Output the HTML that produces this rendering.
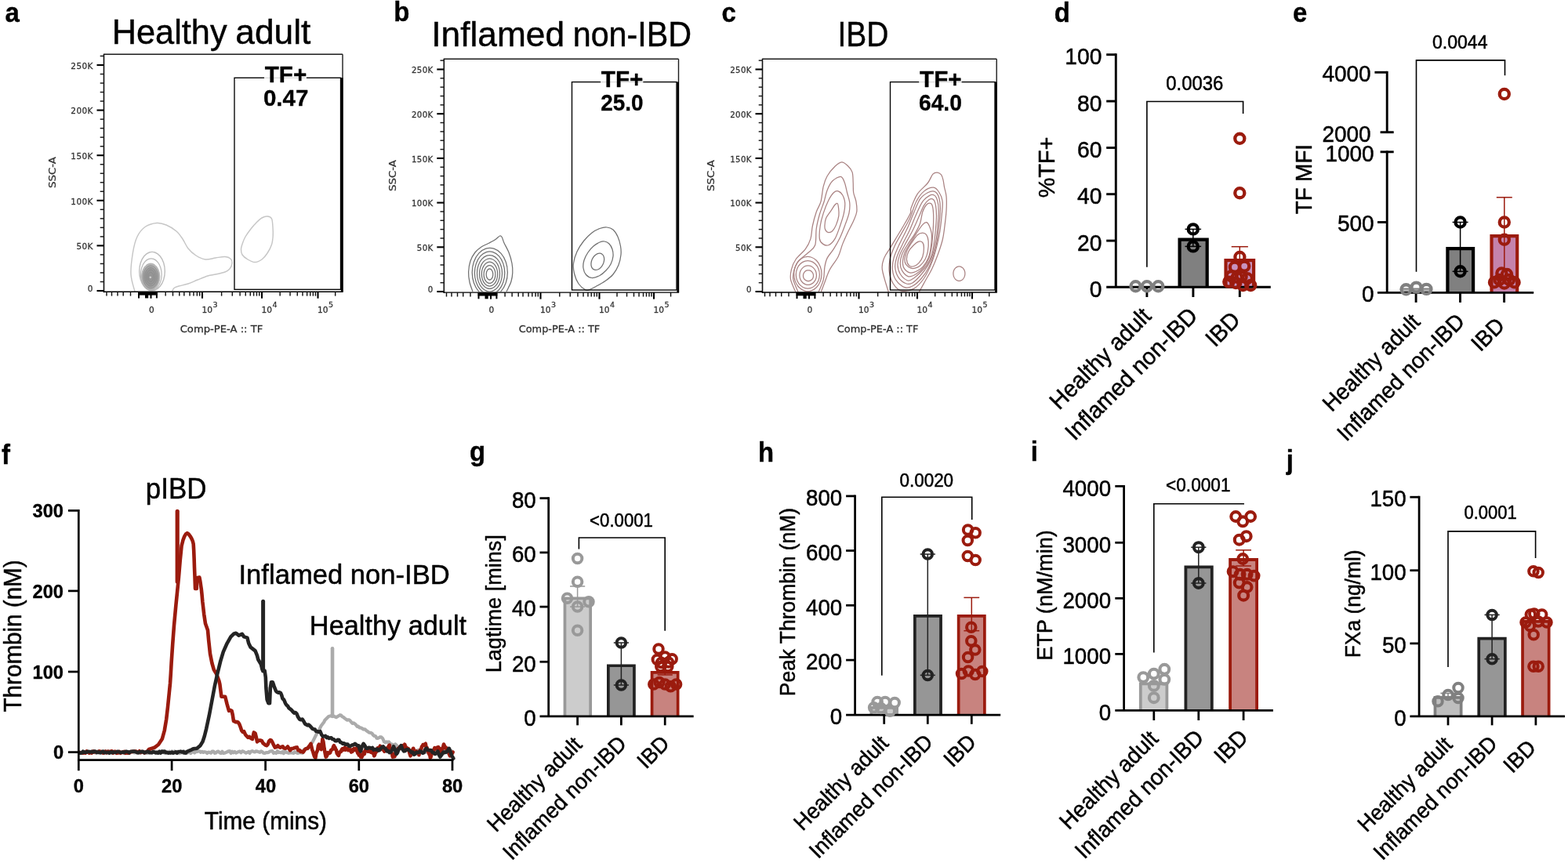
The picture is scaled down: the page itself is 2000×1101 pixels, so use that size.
<!DOCTYPE html>
<html lang="en">
<head>
<meta charset="utf-8">
<title>Tissue factor expression and thrombin generation in IBD</title>
<style>
html,body{margin:0;padding:0;background:#fff;}
body{width:2000px;height:1101px;overflow:hidden;font-family:"Liberation Sans",Arial,Helvetica,sans-serif;}
svg{display:block;}
svg text{white-space:pre;}
</style>
</head>
<body>
<svg width="2000" height="1101" viewBox="0 0 2000 1101">
<rect x="0" y="0" width="2000" height="1101" fill="#ffffff"/>
<g id="panel-a">
<text x="6.51" y="27.5" font-family="'Liberation Sans', Arial, Helvetica, sans-serif" font-size="34.38" fill="#000" textLength="18.3" lengthAdjust="spacingAndGlyphs" font-weight="bold" stroke="#000" stroke-width="0.4" stroke-linejoin="round">a</text>
<text y="56.3" font-family="'Liberation Sans', Arial, Helvetica, sans-serif" font-size="44.5" fill="#000" stroke="#000" stroke-width="0.45"><tspan x="142.67" textLength="146.97" lengthAdjust="spacingAndGlyphs">Healthy</tspan> <tspan x="300.32" textLength="96.06" lengthAdjust="spacingAndGlyphs">adult</tspan></text>
<defs><radialGradient id="coreA" cx="50%" cy="52%" r="55%"><stop offset="0" stop-color="#939393"/><stop offset="0.6" stop-color="#9a9a9a"/><stop offset="1" stop-color="#c4c4c4"/></radialGradient></defs>
<path d="M172 372 C171.17 368.33 167.42 358.33 167 350 C166.58 341.67 168.17 330 169.5 322 C170.83 314 172.42 307.42 175 302 C177.58 296.58 180.83 292.42 185 289.5 C189.17 286.58 195.5 284.92 200 284.5 C204.5 284.08 207.83 285.25 212 287 C216.17 288.75 221.5 292 225 295 C228.5 298 230.5 301.33 233 305 C235.5 308.67 237.17 313.5 240 317 C242.83 320.5 246.33 323.67 250 326 C253.67 328.33 257.83 330.5 262 331 C266.17 331.5 270.83 329.58 275 329 C279.17 328.42 283.83 327.33 287 327.5 C290.17 327.67 292.5 328.58 294 330 C295.5 331.42 296.17 333.83 296 336 C295.83 338.17 294.5 341.17 293 343 C291.5 344.83 290 345.83 287 347 C284 348.17 278.67 349.17 275 350 C271.33 350.83 268.83 350.83 265 352 C261.17 353.17 256.17 355.33 252 357 C247.83 358.67 244 360.67 240 362 C236 363.33 231 364.08 228 365 C225 365.92 223.42 366.33 222 367.5 C220.58 368.67 219.92 371.25 219.5 372" fill="none" stroke="#c6c6c6" stroke-width="1.45"/>
<path d="M210.3 346 C210.3 349.56 209.71 353.47 208.69 356.67 C207.66 359.88 206.01 363.01 204.16 365.23 C202.32 367.45 199.93 369.19 197.63 369.98 C195.33 370.77 192.67 370.77 190.37 369.98 C188.07 369.19 185.68 367.45 183.84 365.23 C181.99 363.01 180.34 359.88 179.31 356.67 C178.29 353.47 177.7 349.56 177.7 346 C177.7 342.44 178.29 338.53 179.31 335.33 C180.34 332.12 181.99 328.99 183.84 326.77 C185.68 324.55 188.07 322.81 190.37 322.02 C192.67 321.23 195.33 321.23 197.63 322.02 C199.93 322.81 202.32 324.55 204.16 326.77 C206.01 328.99 207.66 332.12 208.69 335.33 C209.71 338.53 210.3 342.44 210.3 346Z" fill="none" stroke="#bdbdbd" stroke-width="1.4"/>
<path d="M206.2 350.3 C206.2 353.25 205.71 356.49 204.87 359.15 C204.03 361.81 202.67 364.41 201.15 366.25 C199.64 368.09 197.67 369.53 195.78 370.19 C193.89 370.85 191.71 370.85 189.82 370.19 C187.93 369.53 185.96 368.09 184.45 366.25 C182.93 364.41 181.57 361.81 180.73 359.15 C179.89 356.49 179.4 353.25 179.4 350.3 C179.4 347.35 179.89 344.11 180.73 341.45 C181.57 338.79 182.93 336.19 184.45 334.35 C185.96 332.51 187.93 331.07 189.82 330.41 C191.71 329.75 193.89 329.75 195.78 330.41 C197.67 331.07 199.64 332.51 201.15 334.35 C202.67 336.19 204.03 338.79 204.87 341.45 C205.71 344.11 206.2 347.35 206.2 350.3Z" fill="none" stroke="#b9b9b9" stroke-width="1.2"/>
<path d="M203.8 353 C203.8 355.44 203.38 358.13 202.65 360.33 C201.92 362.53 200.74 364.69 199.43 366.21 C198.12 367.74 196.42 368.93 194.78 369.48 C193.15 370.02 191.25 370.02 189.62 369.48 C187.98 368.93 186.28 367.74 184.97 366.21 C183.66 364.69 182.48 362.53 181.75 360.33 C181.02 358.13 180.6 355.44 180.6 353 C180.6 350.56 181.02 347.87 181.75 345.67 C182.48 343.47 183.66 341.31 184.97 339.79 C186.28 338.26 187.98 337.07 189.62 336.52 C191.25 335.98 193.15 335.98 194.78 336.52 C196.42 337.07 198.12 338.26 199.43 339.79 C200.74 341.31 201.92 343.47 202.65 345.67 C203.38 347.87 203.8 350.56 203.8 353Z" fill="url(#coreA)" stroke="#b0b0b0" stroke-width="1"/>
<path d="M201.8 353.3 C201.8 355.38 201.45 357.67 200.85 359.55 C200.25 361.42 199.27 363.26 198.19 364.56 C197.1 365.86 195.69 366.88 194.34 367.34 C192.98 367.8 191.42 367.8 190.06 367.34 C188.71 366.88 187.3 365.86 186.21 364.56 C185.13 363.26 184.15 361.42 183.55 359.55 C182.95 357.67 182.6 355.38 182.6 353.3 C182.6 351.22 182.95 348.93 183.55 347.05 C184.15 345.18 185.13 343.34 186.21 342.04 C187.3 340.74 188.71 339.72 190.06 339.26 C191.42 338.8 192.98 338.8 194.34 339.26 C195.69 339.72 197.1 340.74 198.19 342.04 C199.27 343.34 200.25 345.18 200.85 347.05 C201.45 348.93 201.8 351.22 201.8 353.3Z" fill="none" stroke="#8a8a8a" stroke-width="0.8"/>
<path d="M199.8 353.3 C199.8 355.01 199.52 356.88 199.05 358.42 C198.57 359.96 197.8 361.46 196.94 362.53 C196.08 363.59 194.96 364.42 193.89 364.8 C192.82 365.18 191.58 365.18 190.51 364.8 C189.44 364.42 188.32 363.59 187.46 362.53 C186.6 361.46 185.83 359.96 185.35 358.42 C184.88 356.88 184.6 355.01 184.6 353.3 C184.6 351.59 184.88 349.72 185.35 348.18 C185.83 346.64 186.6 345.14 187.46 344.07 C188.32 343.01 189.44 342.18 190.51 341.8 C191.58 341.42 192.82 341.42 193.89 341.8 C194.96 342.18 196.08 343.01 196.94 344.07 C197.8 345.14 198.57 346.64 199.05 348.18 C199.52 349.72 199.8 351.59 199.8 353.3Z" fill="none" stroke="#8a8a8a" stroke-width="0.8"/>
<path d="M197.8 353.3 C197.8 354.6 197.6 356.03 197.25 357.2 C196.89 358.38 196.32 359.52 195.69 360.34 C195.06 361.15 194.24 361.78 193.45 362.07 C192.66 362.36 191.74 362.36 190.95 362.07 C190.16 361.78 189.34 361.15 188.71 360.34 C188.08 359.52 187.51 358.38 187.15 357.2 C186.8 356.03 186.6 354.6 186.6 353.3 C186.6 352 186.8 350.57 187.15 349.4 C187.51 348.22 188.08 347.08 188.71 346.26 C189.34 345.45 190.16 344.82 190.95 344.53 C191.74 344.24 192.66 344.24 193.45 344.53 C194.24 344.82 195.06 345.45 195.69 346.26 C196.32 347.08 196.89 348.22 197.25 349.4 C197.6 350.57 197.8 352 197.8 353.3Z" fill="none" stroke="#8a8a8a" stroke-width="0.8"/>
<path d="M195.8 353.3 C195.8 354.17 195.67 355.12 195.44 355.9 C195.22 356.69 194.85 357.45 194.44 357.99 C194.04 358.53 193.51 358.96 193 359.15 C192.49 359.34 191.91 359.34 191.4 359.15 C190.89 358.96 190.36 358.53 189.96 357.99 C189.55 357.45 189.18 356.69 188.96 355.9 C188.73 355.12 188.6 354.17 188.6 353.3 C188.6 352.43 188.73 351.48 188.96 350.7 C189.18 349.91 189.55 349.15 189.96 348.61 C190.36 348.07 190.89 347.64 191.4 347.45 C191.91 347.26 192.49 347.26 193 347.45 C193.51 347.64 194.04 348.07 194.44 348.61 C194.85 349.15 195.22 349.91 195.44 350.7 C195.67 351.48 195.8 352.43 195.8 353.3Z" fill="none" stroke="#8a8a8a" stroke-width="0.8"/>
<circle cx="191.8" cy="353.8" r="1" fill="#d8d8d8" stroke="#d0d0d0" stroke-width="0.6"/>
<path d="M341 276 C343.08 276.17 345.33 276.67 346.5 279 C347.67 281.33 347.72 286.33 348 290 C348.28 293.67 348.45 297.33 348.2 301 C347.95 304.67 347.7 308.33 346.5 312 C345.3 315.67 343.08 319.83 341 323 C338.92 326.17 336.67 329.08 334 331 C331.33 332.92 328 334.5 325 334.5 C322 334.5 318.67 332.58 316 331 C313.33 329.42 310.42 327.17 309 325 C307.58 322.83 307.42 320.5 307.5 318 C307.58 315.5 308.58 312.67 309.5 310 C310.42 307.33 311.25 305 313 302 C314.75 299 317.67 295 320 292 C322.33 289 324.67 286.33 327 284 C329.33 281.67 331.67 279.33 334 278 C336.33 276.67 338.92 275.83 341 276Z" fill="none" stroke="#c6c6c6" stroke-width="1.45"/>
<line x1="132.5" y1="69.3" x2="437" y2="69.3" stroke="#1c1c1c" stroke-width="1.4"/>
<line x1="437" y1="69.3" x2="437" y2="372.2" stroke="#1c1c1c" stroke-width="1.4"/>
<line x1="132.5" y1="68.8" x2="132.5" y2="373.2" stroke="#111" stroke-width="1.6"/>
<line x1="132" y1="372.2" x2="437.6" y2="372.2" stroke="#000" stroke-width="1.45"/>
<rect x="299" y="99.3" width="135.5" height="270" fill="none" stroke="#000" stroke-width="1.35"/>
<line x1="436.2" y1="99.3" x2="436.2" y2="372.2" stroke="#000" stroke-width="2.6"/>
<rect x="337" y="97.3" width="54" height="4" fill="#ffffff" stroke="none" stroke-width="0"/>
<line x1="337" y1="99.3" x2="391" y2="99.3" stroke="#dadada" stroke-width="1.3"/>
<text x="337.66" y="105.4" font-family="'Liberation Sans', Arial, Helvetica, sans-serif" font-size="30" fill="#000" textLength="53.6" lengthAdjust="spacingAndGlyphs" font-weight="bold" stroke="#000" stroke-width="0.35" stroke-linejoin="round">TF+</text>
<text x="335.91" y="135.3" font-family="'Liberation Sans', Arial, Helvetica, sans-serif" font-size="30" fill="#000" textLength="57.5" lengthAdjust="spacingAndGlyphs" font-weight="bold" stroke="#000" stroke-width="0.35" stroke-linejoin="round">0.47</text>
<line x1="123.5" y1="371" x2="132.5" y2="371" stroke="#000" stroke-width="2.1"/>
<text x="118.9" y="372" font-family="'DejaVu Sans', 'Liberation Sans', sans-serif" font-size="10.5" fill="#333" text-anchor="end" letter-spacing="0.4" stroke="#333" stroke-width="0.28">0</text>
<line x1="127.7" y1="359.48" x2="132.5" y2="359.48" stroke="#1a1a1a" stroke-width="1.45"/>
<line x1="127.7" y1="347.96" x2="132.5" y2="347.96" stroke="#1a1a1a" stroke-width="1.45"/>
<line x1="127.7" y1="336.44" x2="132.5" y2="336.44" stroke="#1a1a1a" stroke-width="1.45"/>
<line x1="127.7" y1="324.92" x2="132.5" y2="324.92" stroke="#1a1a1a" stroke-width="1.45"/>
<line x1="123.5" y1="313.4" x2="132.5" y2="313.4" stroke="#000" stroke-width="2.1"/>
<text x="118.9" y="318.2" font-family="'DejaVu Sans', 'Liberation Sans', sans-serif" font-size="10.5" fill="#333" text-anchor="end" letter-spacing="0.4" stroke="#333" stroke-width="0.28">50K</text>
<line x1="127.7" y1="301.88" x2="132.5" y2="301.88" stroke="#1a1a1a" stroke-width="1.45"/>
<line x1="127.7" y1="290.36" x2="132.5" y2="290.36" stroke="#1a1a1a" stroke-width="1.45"/>
<line x1="127.7" y1="278.84" x2="132.5" y2="278.84" stroke="#1a1a1a" stroke-width="1.45"/>
<line x1="127.7" y1="267.32" x2="132.5" y2="267.32" stroke="#1a1a1a" stroke-width="1.45"/>
<line x1="123.5" y1="255.8" x2="132.5" y2="255.8" stroke="#000" stroke-width="2.1"/>
<text x="118.9" y="260.6" font-family="'DejaVu Sans', 'Liberation Sans', sans-serif" font-size="10.5" fill="#333" text-anchor="end" letter-spacing="0.4" stroke="#333" stroke-width="0.28">100K</text>
<line x1="127.7" y1="244.28" x2="132.5" y2="244.28" stroke="#1a1a1a" stroke-width="1.45"/>
<line x1="127.7" y1="232.76" x2="132.5" y2="232.76" stroke="#1a1a1a" stroke-width="1.45"/>
<line x1="127.7" y1="221.24" x2="132.5" y2="221.24" stroke="#1a1a1a" stroke-width="1.45"/>
<line x1="127.7" y1="209.72" x2="132.5" y2="209.72" stroke="#1a1a1a" stroke-width="1.45"/>
<line x1="123.5" y1="198.2" x2="132.5" y2="198.2" stroke="#000" stroke-width="2.1"/>
<text x="118.9" y="203" font-family="'DejaVu Sans', 'Liberation Sans', sans-serif" font-size="10.5" fill="#333" text-anchor="end" letter-spacing="0.4" stroke="#333" stroke-width="0.28">150K</text>
<line x1="127.7" y1="186.68" x2="132.5" y2="186.68" stroke="#1a1a1a" stroke-width="1.45"/>
<line x1="127.7" y1="175.16" x2="132.5" y2="175.16" stroke="#1a1a1a" stroke-width="1.45"/>
<line x1="127.7" y1="163.64" x2="132.5" y2="163.64" stroke="#1a1a1a" stroke-width="1.45"/>
<line x1="127.7" y1="152.12" x2="132.5" y2="152.12" stroke="#1a1a1a" stroke-width="1.45"/>
<line x1="123.5" y1="140.6" x2="132.5" y2="140.6" stroke="#000" stroke-width="2.1"/>
<text x="118.9" y="145.4" font-family="'DejaVu Sans', 'Liberation Sans', sans-serif" font-size="10.5" fill="#333" text-anchor="end" letter-spacing="0.4" stroke="#333" stroke-width="0.28">200K</text>
<line x1="127.7" y1="129.08" x2="132.5" y2="129.08" stroke="#1a1a1a" stroke-width="1.45"/>
<line x1="127.7" y1="117.56" x2="132.5" y2="117.56" stroke="#1a1a1a" stroke-width="1.45"/>
<line x1="127.7" y1="106.04" x2="132.5" y2="106.04" stroke="#1a1a1a" stroke-width="1.45"/>
<line x1="127.7" y1="94.52" x2="132.5" y2="94.52" stroke="#1a1a1a" stroke-width="1.45"/>
<line x1="123.5" y1="83" x2="132.5" y2="83" stroke="#000" stroke-width="2.1"/>
<text x="118.9" y="87.8" font-family="'DejaVu Sans', 'Liberation Sans', sans-serif" font-size="10.5" fill="#333" text-anchor="end" letter-spacing="0.4" stroke="#333" stroke-width="0.28">250K</text>
<line x1="127.7" y1="71.48" x2="132.5" y2="71.48" stroke="#1a1a1a" stroke-width="1.45"/>
<line x1="192.5" y1="372.2" x2="192.5" y2="380.7" stroke="#000" stroke-width="2.1"/>
<text x="193.3" y="398.9" font-family="'DejaVu Sans', 'Liberation Sans', sans-serif" font-size="10.6" fill="#333" text-anchor="middle" stroke="#333" stroke-width="0.28">0</text>
<line x1="258" y1="372.2" x2="258" y2="380.7" stroke="#000" stroke-width="2.1"/>
<text x="257.5" y="398.9" font-family="'DejaVu Sans', 'Liberation Sans', sans-serif" font-size="10.6" fill="#333" stroke="#333" stroke-width="0.28">10</text>
<text x="271.6" y="391.6" font-family="'DejaVu Sans', 'Liberation Sans', sans-serif" font-size="9.5" fill="#333" stroke="#333" stroke-width="0.28">3</text>
<line x1="334" y1="372.2" x2="334" y2="380.7" stroke="#000" stroke-width="2.1"/>
<text x="333.5" y="398.9" font-family="'DejaVu Sans', 'Liberation Sans', sans-serif" font-size="10.6" fill="#333" stroke="#333" stroke-width="0.28">10</text>
<text x="347.6" y="391.6" font-family="'DejaVu Sans', 'Liberation Sans', sans-serif" font-size="9.5" fill="#333" stroke="#333" stroke-width="0.28">4</text>
<line x1="405.5" y1="372.2" x2="405.5" y2="380.7" stroke="#000" stroke-width="2.1"/>
<text x="405" y="398.9" font-family="'DejaVu Sans', 'Liberation Sans', sans-serif" font-size="10.6" fill="#333" stroke="#333" stroke-width="0.28">10</text>
<text x="419.1" y="391.6" font-family="'DejaVu Sans', 'Liberation Sans', sans-serif" font-size="9.5" fill="#333" stroke="#333" stroke-width="0.28">5</text>
<line x1="282.62" y1="372.2" x2="282.62" y2="377.6" stroke="#111" stroke-width="1.45"/>
<line x1="357.17" y1="372.2" x2="357.17" y2="377.6" stroke="#111" stroke-width="1.45"/>
<line x1="296.3" y1="372.2" x2="296.3" y2="377.6" stroke="#111" stroke-width="1.45"/>
<line x1="370.04" y1="372.2" x2="370.04" y2="377.6" stroke="#111" stroke-width="1.45"/>
<line x1="306.11" y1="372.2" x2="306.11" y2="377.6" stroke="#111" stroke-width="1.45"/>
<line x1="379.26" y1="372.2" x2="379.26" y2="377.6" stroke="#111" stroke-width="1.45"/>
<line x1="313.25" y1="372.2" x2="313.25" y2="377.6" stroke="#111" stroke-width="1.45"/>
<line x1="385.98" y1="372.2" x2="385.98" y2="377.6" stroke="#111" stroke-width="1.45"/>
<line x1="319.26" y1="372.2" x2="319.26" y2="377.6" stroke="#111" stroke-width="1.45"/>
<line x1="391.63" y1="372.2" x2="391.63" y2="377.6" stroke="#111" stroke-width="1.45"/>
<line x1="323.59" y1="372.2" x2="323.59" y2="377.6" stroke="#111" stroke-width="1.45"/>
<line x1="395.7" y1="372.2" x2="395.7" y2="377.6" stroke="#111" stroke-width="1.45"/>
<line x1="327.46" y1="372.2" x2="327.46" y2="377.6" stroke="#111" stroke-width="1.45"/>
<line x1="399.35" y1="372.2" x2="399.35" y2="377.6" stroke="#111" stroke-width="1.45"/>
<line x1="330.73" y1="372.2" x2="330.73" y2="377.6" stroke="#111" stroke-width="1.45"/>
<line x1="402.43" y1="372.2" x2="402.43" y2="377.6" stroke="#111" stroke-width="1.45"/>
<line x1="427.67" y1="372.2" x2="427.67" y2="377.6" stroke="#111" stroke-width="1.45"/>
<line x1="211.16" y1="372.2" x2="211.16" y2="377.6" stroke="#111" stroke-width="1.45"/>
<line x1="220.49" y1="372.2" x2="220.49" y2="377.6" stroke="#111" stroke-width="1.45"/>
<line x1="228.81" y1="372.2" x2="228.81" y2="377.6" stroke="#111" stroke-width="1.45"/>
<line x1="234.83" y1="372.2" x2="234.83" y2="377.6" stroke="#111" stroke-width="1.45"/>
<line x1="242.05" y1="372.2" x2="242.05" y2="377.6" stroke="#111" stroke-width="1.45"/>
<line x1="246.97" y1="372.2" x2="246.97" y2="377.6" stroke="#111" stroke-width="1.45"/>
<line x1="251.38" y1="372.2" x2="251.38" y2="377.6" stroke="#111" stroke-width="1.45"/>
<line x1="254.69" y1="372.2" x2="254.69" y2="377.6" stroke="#111" stroke-width="1.45"/>
<line x1="166.5" y1="372.2" x2="166.5" y2="377.6" stroke="#111" stroke-width="1.45"/>
<line x1="157.2" y1="372.2" x2="157.2" y2="377.6" stroke="#111" stroke-width="1.45"/>
<line x1="150" y1="372.2" x2="150" y2="377.6" stroke="#111" stroke-width="1.45"/>
<line x1="142.5" y1="372.2" x2="142.5" y2="377.6" stroke="#111" stroke-width="1.45"/>
<line x1="136" y1="372.2" x2="136" y2="377.6" stroke="#111" stroke-width="1.45"/>
<rect x="176.1" y="372.2" width="24.8" height="4.4" fill="#000" stroke="none" stroke-width="1"/>
<line x1="177" y1="372.2" x2="177" y2="380.4" stroke="#000" stroke-width="2"/>
<line x1="187.1" y1="372.2" x2="187.1" y2="380.4" stroke="#000" stroke-width="4.2"/>
<line x1="199.9" y1="372.2" x2="199.9" y2="380.4" stroke="#000" stroke-width="2"/>
<text x="282.5" y="424.2" font-family="'DejaVu Sans', 'Liberation Sans', sans-serif" font-size="13" fill="#2a2a2a" textLength="105.6" lengthAdjust="spacingAndGlyphs" text-anchor="middle" stroke="#333" stroke-width="0.28">Comp-PE-A :: TF</text>
<text x="71.3" y="220" font-family="'DejaVu Sans', 'Liberation Sans', sans-serif" font-size="11.6" fill="#333" transform="rotate(-90 71.3 220)" textLength="40" lengthAdjust="spacingAndGlyphs" text-anchor="middle" stroke="#333" stroke-width="0.28">SSC-A</text>
</g>
<g id="panel-b">
<text x="502.36" y="27.2" font-family="'Liberation Sans', Arial, Helvetica, sans-serif" font-size="34.38" fill="#000" textLength="20.1" lengthAdjust="spacingAndGlyphs" font-weight="bold" stroke="#000" stroke-width="0.4" stroke-linejoin="round">b</text>
<text y="58.8" font-family="'Liberation Sans', Arial, Helvetica, sans-serif" font-size="44.5" fill="#000" stroke="#000" stroke-width="0.45"><tspan x="550.31" textLength="169.79" lengthAdjust="spacingAndGlyphs">Inflamed</tspan> <tspan x="730.71" textLength="151.39" lengthAdjust="spacingAndGlyphs">non-IBD</tspan></text>
<path d="M603 372 C602.33 370 599.9 364.17 599 360 C598.1 355.83 597.43 351.5 597.6 347 C597.77 342.5 598.6 337.17 600 333 C601.4 328.83 603.67 325 606 322 C608.33 319 611 317 614 315 C617 313 621 311.58 624 310 C627 308.42 629.75 307 632 305.5 C634.25 304 636.13 301.5 637.5 301 C638.87 300.5 639.28 301 640.2 302.5 C641.12 304 641.53 306.75 643 310 C644.47 313.25 647.33 317.67 649 322 C650.67 326.33 652.2 331.67 653 336 C653.8 340.33 653.97 344.17 653.8 348 C653.63 351.83 652.88 355.83 652 359 C651.12 362.17 649.5 364.83 648.5 367 C647.5 369.17 646.42 371.17 646 372" fill="none" stroke="#707070" stroke-width="1.25"/>
<clipPath id="cb226"><rect x="560" y="70" width="310" height="302.3"/></clipPath>
<path d="M647.4 347.5 C647.4 352.01 646.58 356.97 645.16 361.04 C643.74 365.1 641.45 369.08 638.89 371.89 C636.34 374.71 633.02 376.91 629.83 377.92 C626.64 378.92 622.96 378.92 619.77 377.92 C616.58 376.91 613.26 374.71 610.71 371.89 C608.15 369.08 605.86 365.1 604.44 361.04 C603.02 356.97 602.2 352.01 602.2 347.5 C602.2 342.99 603.02 338.03 604.44 333.96 C605.86 329.9 608.15 325.92 610.71 323.11 C613.26 320.29 616.58 318.09 619.77 317.08 C622.96 316.08 626.64 316.08 629.83 317.08 C633.02 318.09 636.34 320.29 638.89 323.11 C641.45 325.92 643.74 329.9 645.16 333.96 C646.58 338.03 647.4 342.99 647.4 347.5Z" fill="none" stroke="#707070" stroke-width="1.25" clip-path="url(#cb226)"/>
<clipPath id="cb192"><rect x="560" y="70" width="310" height="302.3"/></clipPath>
<path d="M643.8 348.2 C643.8 352.13 643.1 356.46 641.9 360 C640.69 363.55 638.74 367.01 636.57 369.47 C634.4 371.92 631.58 373.84 628.87 374.72 C626.17 375.59 623.03 375.59 620.33 374.72 C617.62 373.84 614.8 371.92 612.63 369.47 C610.46 367.01 608.51 363.55 607.3 360 C606.1 356.46 605.4 352.13 605.4 348.2 C605.4 344.27 606.1 339.94 607.3 336.4 C608.51 332.85 610.46 329.39 612.63 326.93 C614.8 324.48 617.62 322.56 620.33 321.68 C623.03 320.81 626.17 320.81 628.87 321.68 C631.58 322.56 634.4 324.48 636.57 326.93 C638.74 329.39 640.69 332.85 641.9 336.4 C643.1 339.94 643.8 344.27 643.8 348.2Z" fill="none" stroke="#707070" stroke-width="1.25" clip-path="url(#cb192)"/>
<clipPath id="cb160"><rect x="560" y="70" width="310" height="302.3"/></clipPath>
<path d="M640.5 348.8 C640.5 352.16 639.92 355.84 638.92 358.87 C637.91 361.89 636.29 364.85 634.48 366.94 C632.67 369.03 630.32 370.67 628.06 371.42 C625.8 372.16 623.2 372.16 620.94 371.42 C618.68 370.67 616.33 369.03 614.52 366.94 C612.71 364.85 611.09 361.89 610.08 358.87 C609.08 355.84 608.5 352.16 608.5 348.8 C608.5 345.44 609.08 341.76 610.08 338.73 C611.09 335.71 612.71 332.75 614.52 330.66 C616.33 328.57 618.68 326.93 620.94 326.18 C623.2 325.44 625.8 325.44 628.06 326.18 C630.32 326.93 632.67 328.57 634.48 330.66 C636.29 332.75 637.91 335.71 638.92 338.73 C639.92 341.76 640.5 345.44 640.5 348.8Z" fill="none" stroke="#707070" stroke-width="1.25" clip-path="url(#cb160)"/>
<clipPath id="cb130"><rect x="560" y="70" width="310" height="302.3"/></clipPath>
<path d="M637.5 349.2 C637.5 351.98 637.03 355.03 636.21 357.53 C635.4 360.03 634.08 362.48 632.61 364.21 C631.14 365.94 629.23 367.3 627.39 367.92 C625.56 368.54 623.44 368.54 621.61 367.92 C619.77 367.3 617.86 365.94 616.39 364.21 C614.92 362.48 613.6 360.03 612.79 357.53 C611.97 355.03 611.5 351.98 611.5 349.2 C611.5 346.42 611.97 343.37 612.79 340.87 C613.6 338.37 614.92 335.92 616.39 334.19 C617.86 332.46 619.77 331.1 621.61 330.48 C623.44 329.86 625.56 329.86 627.39 330.48 C629.23 331.1 631.14 332.46 632.61 334.19 C634.08 335.92 635.4 338.37 636.21 340.87 C637.03 343.37 637.5 346.42 637.5 349.2Z" fill="none" stroke="#707070" stroke-width="1.25" clip-path="url(#cb130)"/>
<clipPath id="cb102"><rect x="560" y="70" width="310" height="302.3"/></clipPath>
<path d="M634.7 349.6 C634.7 351.83 634.33 354.28 633.69 356.28 C633.05 358.29 632.01 360.25 630.86 361.64 C629.71 363.03 628.21 364.12 626.77 364.61 C625.33 365.11 623.67 365.11 622.23 364.61 C620.79 364.12 619.29 363.03 618.14 361.64 C616.99 360.25 615.95 358.29 615.31 356.28 C614.67 354.28 614.3 351.83 614.3 349.6 C614.3 347.37 614.67 344.92 615.31 342.92 C615.95 340.91 616.99 338.95 618.14 337.56 C619.29 336.17 620.79 335.08 622.23 334.59 C623.67 334.09 625.33 334.09 626.77 334.59 C628.21 335.08 629.71 336.17 630.86 337.56 C632.01 338.95 633.05 340.91 633.69 342.92 C634.33 344.92 634.7 347.37 634.7 349.6Z" fill="none" stroke="#707070" stroke-width="1.25" clip-path="url(#cb102)"/>
<clipPath id="cb74"><rect x="560" y="70" width="310" height="302.3"/></clipPath>
<path d="M631.9 350 C631.9 351.65 631.63 353.46 631.17 354.95 C630.7 356.43 629.95 357.88 629.11 358.91 C628.28 359.94 627.19 360.75 626.15 361.11 C625.1 361.48 623.9 361.48 622.85 361.11 C621.81 360.75 620.72 359.94 619.89 358.91 C619.05 357.88 618.3 356.43 617.83 354.95 C617.37 353.46 617.1 351.65 617.1 350 C617.1 348.35 617.37 346.54 617.83 345.05 C618.3 343.57 619.05 342.12 619.89 341.09 C620.72 340.06 621.81 339.25 622.85 338.89 C623.9 338.52 625.1 338.52 626.15 338.89 C627.19 339.25 628.28 340.06 629.11 341.09 C629.95 342.12 630.7 343.57 631.17 345.05 C631.63 346.54 631.9 348.35 631.9 350Z" fill="none" stroke="#707070" stroke-width="1.25" clip-path="url(#cb74)"/>
<clipPath id="cb43"><rect x="560" y="70" width="310" height="302.3"/></clipPath>
<path d="M628.8 350 C628.8 351.01 628.64 352.13 628.37 353.04 C628.1 353.95 627.67 354.84 627.18 355.47 C626.69 356.1 626.06 356.6 625.46 356.82 C624.85 357.05 624.15 357.05 623.54 356.82 C622.94 356.6 622.31 356.1 621.82 355.47 C621.33 354.84 620.9 353.95 620.63 353.04 C620.36 352.13 620.2 351.01 620.2 350 C620.2 348.99 620.36 347.87 620.63 346.96 C620.9 346.05 621.33 345.16 621.82 344.53 C622.31 343.9 622.94 343.4 623.54 343.18 C624.15 342.95 624.85 342.95 625.46 343.18 C626.06 343.4 626.69 343.9 627.18 344.53 C627.67 345.16 628.1 346.05 628.37 346.96 C628.64 347.87 628.8 348.99 628.8 350Z" fill="none" stroke="#707070" stroke-width="1.25" clip-path="url(#cb43)"/>
<path d="M747 370 C744.67 368.75 740.42 365.5 738 362 C735.58 358.5 733.58 353.33 732.5 349 C731.42 344.67 730.92 340.67 731.5 336 C732.08 331.33 733.83 325.75 736 321 C738.17 316.25 741.33 311.5 744.5 307.5 C747.67 303.5 751.58 299.67 755 297 C758.42 294.33 761.83 292.67 765 291.5 C768.17 290.33 771.17 289.75 774 290 C776.83 290.25 779.67 291 782 293 C784.33 295 786.42 298.5 788 302 C789.58 305.5 790.83 310.17 791.5 314 C792.17 317.83 792.42 321 792 325 C791.58 329 790.67 333.83 789 338 C787.33 342.17 784.83 346.58 782 350 C779.17 353.42 775.67 355.92 772 358.5 C768.33 361.08 763.33 363.67 760 365.5 C756.67 367.33 754.17 368.75 752 369.5 C749.83 370.25 749.33 371.25 747 370Z" fill="none" stroke="#707070" stroke-width="1.25"/>
<path d="M755 354.5 C752.08 354.33 749.33 352.58 747.5 350.5 C745.67 348.42 744.42 345.08 744 342 C743.58 338.92 744 335.33 745 332 C746 328.67 748 325 750 322 C752 319 754.5 316.17 757 314 C759.5 311.83 762.67 310 765 309 C767.33 308 769 307.67 771 308 C773 308.33 775.33 309.33 777 311 C778.67 312.67 780.17 315.33 781 318 C781.83 320.67 782.33 323.83 782 327 C781.67 330.17 780.5 334 779 337 C777.5 340 775.33 342.58 773 345 C770.67 347.42 768 349.92 765 351.5 C762 353.08 757.92 354.67 755 354.5Z" fill="none" stroke="#707070" stroke-width="1.25"/>
<path d="M769.19 337.01 C768.5 338.48 767.5 339.98 766.45 341.1 C765.4 342.22 764.1 343.19 762.89 343.74 C761.69 344.29 760.34 344.54 759.22 344.41 C758.09 344.28 756.97 343.76 756.15 342.98 C755.33 342.2 754.66 341.01 754.3 339.73 C753.95 338.46 753.86 336.83 754.04 335.31 C754.23 333.79 754.73 332.06 755.41 330.59 C756.1 329.12 757.1 327.62 758.15 326.5 C759.2 325.38 760.5 324.41 761.71 323.86 C762.91 323.31 764.26 323.06 765.38 323.19 C766.51 323.32 767.63 323.84 768.45 324.62 C769.27 325.4 769.94 326.59 770.3 327.87 C770.65 329.14 770.74 330.77 770.56 332.29 C770.37 333.81 769.87 335.54 769.19 337.01Z" fill="none" stroke="#707070" stroke-width="1.25"/>
<line x1="566.3" y1="75.3" x2="865.5" y2="75.3" stroke="#1c1c1c" stroke-width="1.4"/>
<line x1="865.5" y1="75.3" x2="865.5" y2="373.1" stroke="#1c1c1c" stroke-width="1.4"/>
<line x1="566.3" y1="74.8" x2="566.3" y2="374.1" stroke="#111" stroke-width="1.6"/>
<line x1="565.8" y1="373.1" x2="866.1" y2="373.1" stroke="#000" stroke-width="1.45"/>
<rect x="729.5" y="104.6" width="133.5" height="265.4" fill="none" stroke="#000" stroke-width="1.35"/>
<line x1="864.7" y1="104.6" x2="864.7" y2="373.1" stroke="#000" stroke-width="2.6"/>
<rect x="766.2" y="102.6" width="54" height="4" fill="#ffffff" stroke="none" stroke-width="0"/>
<line x1="766.2" y1="104.6" x2="820.2" y2="104.6" stroke="#dadada" stroke-width="1.3"/>
<text x="766.86" y="110.7" font-family="'Liberation Sans', Arial, Helvetica, sans-serif" font-size="30" fill="#000" textLength="53.6" lengthAdjust="spacingAndGlyphs" font-weight="bold" stroke="#000" stroke-width="0.35" stroke-linejoin="round">TF+</text>
<text x="766.34" y="140.6" font-family="'Liberation Sans', Arial, Helvetica, sans-serif" font-size="30" fill="#000" textLength="54.3" lengthAdjust="spacingAndGlyphs" font-weight="bold" stroke="#000" stroke-width="0.35" stroke-linejoin="round">25.0</text>
<line x1="557.3" y1="372" x2="566.3" y2="372" stroke="#000" stroke-width="2.1"/>
<text x="552.7" y="373" font-family="'DejaVu Sans', 'Liberation Sans', sans-serif" font-size="10.2" fill="#333" text-anchor="end" letter-spacing="0.4" stroke="#333" stroke-width="0.28">0</text>
<line x1="561.5" y1="360.66" x2="566.3" y2="360.66" stroke="#1a1a1a" stroke-width="1.45"/>
<line x1="561.5" y1="349.32" x2="566.3" y2="349.32" stroke="#1a1a1a" stroke-width="1.45"/>
<line x1="561.5" y1="337.98" x2="566.3" y2="337.98" stroke="#1a1a1a" stroke-width="1.45"/>
<line x1="561.5" y1="326.64" x2="566.3" y2="326.64" stroke="#1a1a1a" stroke-width="1.45"/>
<line x1="557.3" y1="315.3" x2="566.3" y2="315.3" stroke="#000" stroke-width="2.1"/>
<text x="552.7" y="320.1" font-family="'DejaVu Sans', 'Liberation Sans', sans-serif" font-size="10.2" fill="#333" text-anchor="end" letter-spacing="0.4" stroke="#333" stroke-width="0.28">50K</text>
<line x1="561.5" y1="303.96" x2="566.3" y2="303.96" stroke="#1a1a1a" stroke-width="1.45"/>
<line x1="561.5" y1="292.62" x2="566.3" y2="292.62" stroke="#1a1a1a" stroke-width="1.45"/>
<line x1="561.5" y1="281.28" x2="566.3" y2="281.28" stroke="#1a1a1a" stroke-width="1.45"/>
<line x1="561.5" y1="269.94" x2="566.3" y2="269.94" stroke="#1a1a1a" stroke-width="1.45"/>
<line x1="557.3" y1="258.6" x2="566.3" y2="258.6" stroke="#000" stroke-width="2.1"/>
<text x="552.7" y="263.4" font-family="'DejaVu Sans', 'Liberation Sans', sans-serif" font-size="10.2" fill="#333" text-anchor="end" letter-spacing="0.4" stroke="#333" stroke-width="0.28">100K</text>
<line x1="561.5" y1="247.26" x2="566.3" y2="247.26" stroke="#1a1a1a" stroke-width="1.45"/>
<line x1="561.5" y1="235.92" x2="566.3" y2="235.92" stroke="#1a1a1a" stroke-width="1.45"/>
<line x1="561.5" y1="224.58" x2="566.3" y2="224.58" stroke="#1a1a1a" stroke-width="1.45"/>
<line x1="561.5" y1="213.24" x2="566.3" y2="213.24" stroke="#1a1a1a" stroke-width="1.45"/>
<line x1="557.3" y1="201.9" x2="566.3" y2="201.9" stroke="#000" stroke-width="2.1"/>
<text x="552.7" y="206.7" font-family="'DejaVu Sans', 'Liberation Sans', sans-serif" font-size="10.2" fill="#333" text-anchor="end" letter-spacing="0.4" stroke="#333" stroke-width="0.28">150K</text>
<line x1="561.5" y1="190.56" x2="566.3" y2="190.56" stroke="#1a1a1a" stroke-width="1.45"/>
<line x1="561.5" y1="179.22" x2="566.3" y2="179.22" stroke="#1a1a1a" stroke-width="1.45"/>
<line x1="561.5" y1="167.88" x2="566.3" y2="167.88" stroke="#1a1a1a" stroke-width="1.45"/>
<line x1="561.5" y1="156.54" x2="566.3" y2="156.54" stroke="#1a1a1a" stroke-width="1.45"/>
<line x1="557.3" y1="145.2" x2="566.3" y2="145.2" stroke="#000" stroke-width="2.1"/>
<text x="552.7" y="150" font-family="'DejaVu Sans', 'Liberation Sans', sans-serif" font-size="10.2" fill="#333" text-anchor="end" letter-spacing="0.4" stroke="#333" stroke-width="0.28">200K</text>
<line x1="561.5" y1="133.86" x2="566.3" y2="133.86" stroke="#1a1a1a" stroke-width="1.45"/>
<line x1="561.5" y1="122.52" x2="566.3" y2="122.52" stroke="#1a1a1a" stroke-width="1.45"/>
<line x1="561.5" y1="111.18" x2="566.3" y2="111.18" stroke="#1a1a1a" stroke-width="1.45"/>
<line x1="561.5" y1="99.84" x2="566.3" y2="99.84" stroke="#1a1a1a" stroke-width="1.45"/>
<line x1="557.3" y1="88.5" x2="566.3" y2="88.5" stroke="#000" stroke-width="2.1"/>
<text x="552.7" y="93.3" font-family="'DejaVu Sans', 'Liberation Sans', sans-serif" font-size="10.2" fill="#333" text-anchor="end" letter-spacing="0.4" stroke="#333" stroke-width="0.28">250K</text>
<line x1="561.5" y1="77.16" x2="566.3" y2="77.16" stroke="#1a1a1a" stroke-width="1.45"/>
<line x1="626" y1="373.1" x2="626" y2="381.6" stroke="#000" stroke-width="2.1"/>
<text x="626.8" y="398.9" font-family="'DejaVu Sans', 'Liberation Sans', sans-serif" font-size="10.6" fill="#333" text-anchor="middle" stroke="#333" stroke-width="0.28">0</text>
<line x1="689.5" y1="373.1" x2="689.5" y2="381.6" stroke="#000" stroke-width="2.1"/>
<text x="689" y="398.9" font-family="'DejaVu Sans', 'Liberation Sans', sans-serif" font-size="10.6" fill="#333" stroke="#333" stroke-width="0.28">10</text>
<text x="703.1" y="391.6" font-family="'DejaVu Sans', 'Liberation Sans', sans-serif" font-size="9.5" fill="#333" stroke="#333" stroke-width="0.28">3</text>
<line x1="764.5" y1="373.1" x2="764.5" y2="381.6" stroke="#000" stroke-width="2.1"/>
<text x="764" y="398.9" font-family="'DejaVu Sans', 'Liberation Sans', sans-serif" font-size="10.6" fill="#333" stroke="#333" stroke-width="0.28">10</text>
<text x="778.1" y="391.6" font-family="'DejaVu Sans', 'Liberation Sans', sans-serif" font-size="9.5" fill="#333" stroke="#333" stroke-width="0.28">4</text>
<line x1="834" y1="373.1" x2="834" y2="381.6" stroke="#000" stroke-width="2.1"/>
<text x="833.5" y="398.9" font-family="'DejaVu Sans', 'Liberation Sans', sans-serif" font-size="10.6" fill="#333" stroke="#333" stroke-width="0.28">10</text>
<text x="847.6" y="391.6" font-family="'DejaVu Sans', 'Liberation Sans', sans-serif" font-size="9.5" fill="#333" stroke="#333" stroke-width="0.28">5</text>
<line x1="713.8" y1="373.1" x2="713.8" y2="378.5" stroke="#111" stroke-width="1.45"/>
<line x1="787.02" y1="373.1" x2="787.02" y2="378.5" stroke="#111" stroke-width="1.45"/>
<line x1="727.3" y1="373.1" x2="727.3" y2="378.5" stroke="#111" stroke-width="1.45"/>
<line x1="799.53" y1="373.1" x2="799.53" y2="378.5" stroke="#111" stroke-width="1.45"/>
<line x1="736.98" y1="373.1" x2="736.98" y2="378.5" stroke="#111" stroke-width="1.45"/>
<line x1="808.49" y1="373.1" x2="808.49" y2="378.5" stroke="#111" stroke-width="1.45"/>
<line x1="744.02" y1="373.1" x2="744.02" y2="378.5" stroke="#111" stroke-width="1.45"/>
<line x1="815.03" y1="373.1" x2="815.03" y2="378.5" stroke="#111" stroke-width="1.45"/>
<line x1="749.95" y1="373.1" x2="749.95" y2="378.5" stroke="#111" stroke-width="1.45"/>
<line x1="820.52" y1="373.1" x2="820.52" y2="378.5" stroke="#111" stroke-width="1.45"/>
<line x1="754.23" y1="373.1" x2="754.23" y2="378.5" stroke="#111" stroke-width="1.45"/>
<line x1="824.48" y1="373.1" x2="824.48" y2="378.5" stroke="#111" stroke-width="1.45"/>
<line x1="758.05" y1="373.1" x2="758.05" y2="378.5" stroke="#111" stroke-width="1.45"/>
<line x1="828.02" y1="373.1" x2="828.02" y2="378.5" stroke="#111" stroke-width="1.45"/>
<line x1="761.27" y1="373.1" x2="761.27" y2="378.5" stroke="#111" stroke-width="1.45"/>
<line x1="831.01" y1="373.1" x2="831.01" y2="378.5" stroke="#111" stroke-width="1.45"/>
<line x1="855.54" y1="373.1" x2="855.54" y2="378.5" stroke="#111" stroke-width="1.45"/>
<line x1="644.09" y1="373.1" x2="644.09" y2="378.5" stroke="#111" stroke-width="1.45"/>
<line x1="653.13" y1="373.1" x2="653.13" y2="378.5" stroke="#111" stroke-width="1.45"/>
<line x1="661.2" y1="373.1" x2="661.2" y2="378.5" stroke="#111" stroke-width="1.45"/>
<line x1="667.04" y1="373.1" x2="667.04" y2="378.5" stroke="#111" stroke-width="1.45"/>
<line x1="674.04" y1="373.1" x2="674.04" y2="378.5" stroke="#111" stroke-width="1.45"/>
<line x1="678.8" y1="373.1" x2="678.8" y2="378.5" stroke="#111" stroke-width="1.45"/>
<line x1="683.08" y1="373.1" x2="683.08" y2="378.5" stroke="#111" stroke-width="1.45"/>
<line x1="686.29" y1="373.1" x2="686.29" y2="378.5" stroke="#111" stroke-width="1.45"/>
<line x1="600" y1="373.1" x2="600" y2="378.5" stroke="#111" stroke-width="1.45"/>
<line x1="590.7" y1="373.1" x2="590.7" y2="378.5" stroke="#111" stroke-width="1.45"/>
<line x1="583.5" y1="373.1" x2="583.5" y2="378.5" stroke="#111" stroke-width="1.45"/>
<line x1="576" y1="373.1" x2="576" y2="378.5" stroke="#111" stroke-width="1.45"/>
<line x1="569.5" y1="373.1" x2="569.5" y2="378.5" stroke="#111" stroke-width="1.45"/>
<rect x="609.6" y="373.1" width="24.8" height="4.4" fill="#000" stroke="none" stroke-width="1"/>
<line x1="610.5" y1="373.1" x2="610.5" y2="381.3" stroke="#000" stroke-width="2"/>
<line x1="620.6" y1="373.1" x2="620.6" y2="381.3" stroke="#000" stroke-width="4.2"/>
<line x1="633.4" y1="373.1" x2="633.4" y2="381.3" stroke="#000" stroke-width="2"/>
<text x="713.5" y="424.2" font-family="'DejaVu Sans', 'Liberation Sans', sans-serif" font-size="12.7" fill="#2a2a2a" textLength="103.6" lengthAdjust="spacingAndGlyphs" text-anchor="middle" stroke="#333" stroke-width="0.28">Comp-PE-A :: TF</text>
<text x="505" y="224" font-family="'DejaVu Sans', 'Liberation Sans', sans-serif" font-size="11.6" fill="#333" transform="rotate(-90 505 224)" textLength="40" lengthAdjust="spacingAndGlyphs" text-anchor="middle" stroke="#333" stroke-width="0.28">SSC-A</text>
</g>
<g id="panel-c">
<text x="920.38" y="27.5" font-family="'Liberation Sans', Arial, Helvetica, sans-serif" font-size="34.38" fill="#000" textLength="18.3" lengthAdjust="spacingAndGlyphs" font-weight="bold" stroke="#000" stroke-width="0.4" stroke-linejoin="round">c</text>
<text x="1068.5" y="59.2" font-family="'Liberation Sans', Arial, Helvetica, sans-serif" font-size="44.5" fill="#000" textLength="65" lengthAdjust="spacingAndGlyphs" stroke="#000" stroke-width="0.45">IBD</text>
<clipPath id="cc"><rect x="960" y="70" width="320" height="302.2"/></clipPath>
<g clip-path="url(#cc)">
<path d="M1015.14 373.23 C1014.05 370.51 1009.55 361.79 1008.6 356.89 C1007.65 351.99 1008.33 348.17 1009.42 343.81 C1010.51 339.46 1012.14 335.1 1015.14 330.74 C1018.13 326.38 1024.26 322.02 1027.39 317.67 C1030.53 313.31 1032.43 309.5 1033.93 304.59 C1035.43 299.69 1035.16 293.97 1036.38 288.25 C1037.61 282.53 1039.51 275.45 1041.28 270.27 C1043.05 265.1 1045.51 262.65 1047 257.2 C1048.5 251.75 1048.91 243.04 1050.27 237.59 C1051.63 232.14 1052.72 228.74 1055.18 224.51 C1057.63 220.29 1061.93 215.2 1064.98 212.26 C1068.03 209.32 1070.76 207 1073.48 206.86 C1076.2 206.73 1079.06 209.32 1081.32 211.44 C1083.58 213.56 1085.9 216.07 1087.04 219.61 C1088.19 223.15 1087.92 228.33 1088.19 232.69 C1088.46 237.04 1088.05 241.67 1088.68 245.76 C1089.3 249.84 1091.27 253.11 1091.95 257.2 C1092.63 261.28 1093.31 266.19 1092.76 270.27 C1092.22 274.36 1090.58 277.35 1088.68 281.71 C1086.77 286.07 1083.64 291.52 1081.32 296.42 C1079.01 301.32 1076.83 305.95 1074.79 311.13 C1072.74 316.3 1071.79 322.02 1069.07 327.47 C1066.34 332.92 1061.3 338.37 1058.44 343.81 C1055.58 349.26 1053.81 355.25 1051.91 360.16 C1050 365.06 1047.82 371.05 1047 373.23" fill="none" stroke="#a98282" stroke-width="1.25"/>
<path d="M1018.4 373.23 C1017.32 370.51 1012.82 361.52 1011.87 356.89 C1010.91 352.26 1011.6 349.4 1012.69 345.45 C1013.77 341.5 1015.41 337 1018.4 333.19 C1021.4 329.38 1027.12 325.97 1030.66 322.57 C1034.2 319.16 1037.88 317.94 1039.65 312.76 C1041.42 307.59 1040.33 298.06 1041.28 291.52 C1042.24 284.98 1043.74 279.26 1045.37 273.54 C1047 267.82 1049.46 262.37 1051.09 257.2 C1052.72 252.02 1053.41 246.85 1055.18 242.49 C1056.95 238.13 1058.85 233.91 1061.71 231.05 C1064.57 228.19 1069.75 225.06 1072.34 225.33 C1074.92 225.6 1075.88 229.28 1077.24 232.69 C1078.6 236.09 1079.42 241.4 1080.51 245.76 C1081.6 250.12 1083.37 254.48 1083.78 258.83 C1084.18 263.19 1083.91 267.28 1082.96 271.91 C1082 276.54 1079.96 281.44 1078.06 286.62 C1076.15 291.79 1073.97 297.78 1071.52 302.96 C1069.07 308.13 1066.07 313.31 1063.35 317.67 C1060.62 322.02 1057.08 325.29 1055.18 329.11 C1053.27 332.92 1052.72 335.92 1051.91 340.55 C1051.09 345.18 1051.63 351.44 1050.27 356.89 C1048.91 362.34 1044.83 370.51 1043.74 373.23" fill="none" stroke="#a98282" stroke-width="1.25"/>
<path d="M1045.37 304.59 C1044.83 300.78 1045.37 293.7 1046.19 288.25 C1047 282.8 1048.5 277.35 1050.27 271.91 C1052.04 266.46 1054.63 259.92 1056.81 255.56 C1058.99 251.21 1061.3 247.72 1063.35 245.76 C1065.39 243.8 1067.16 243.25 1069.07 243.8 C1070.97 244.34 1073.34 246.52 1074.79 249.03 C1076.23 251.53 1077.46 255.02 1077.73 258.83 C1078 262.65 1077.46 267 1076.42 271.91 C1075.39 276.81 1073.42 282.8 1071.52 288.25 C1069.61 293.7 1067.43 300.51 1064.98 304.59 C1062.53 308.68 1059.4 311.67 1056.81 312.76 C1054.22 313.85 1051.36 312.49 1049.46 311.13 C1047.55 309.77 1045.91 308.41 1045.37 304.59Z" fill="none" stroke="#a98282" stroke-width="1.25"/>
<path d="M1051.91 288.25 C1052.04 285.8 1052.18 281.71 1053.54 278.44 C1054.9 275.18 1058.17 271.5 1060.08 268.64 C1061.99 265.78 1063.62 262.78 1064.98 261.28 C1066.34 259.79 1067.49 258.97 1068.25 259.65 C1069.01 260.33 1069.28 262.78 1069.56 265.37 C1069.83 267.96 1070.37 271.63 1069.88 275.18 C1069.39 278.72 1067.98 283.35 1066.62 286.62 C1065.25 289.88 1063.48 293.15 1061.71 294.79 C1059.94 296.42 1057.49 296.69 1055.99 296.42 C1054.49 296.15 1053.41 294.51 1052.72 293.15 C1052.04 291.79 1051.77 290.7 1051.91 288.25Z" fill="none" stroke="#a98282" stroke-width="1.25"/>
<path d="M1037.53 351.66 C1037.53 352.65 1037.29 353.74 1036.88 354.64 C1036.47 355.53 1035.8 356.41 1035.06 357.03 C1034.33 357.64 1033.37 358.13 1032.44 358.35 C1031.52 358.57 1030.46 358.57 1029.53 358.35 C1028.61 358.13 1027.65 357.64 1026.91 357.03 C1026.17 356.41 1025.51 355.53 1025.1 354.64 C1024.69 353.74 1024.45 352.65 1024.45 351.66 C1024.45 350.67 1024.69 349.58 1025.1 348.68 C1025.51 347.79 1026.17 346.91 1026.91 346.29 C1027.65 345.67 1028.61 345.19 1029.53 344.97 C1030.46 344.75 1031.52 344.75 1032.44 344.97 C1033.37 345.19 1034.33 345.67 1035.06 346.29 C1035.8 346.91 1036.47 347.79 1036.88 348.68 C1037.29 349.58 1037.53 350.67 1037.53 351.66Z" fill="none" stroke="#a98282" stroke-width="1.25"/>
<path d="M1041.45 351.17 C1041.45 352.94 1041.06 354.89 1040.38 356.49 C1039.7 358.08 1038.61 359.65 1037.39 360.75 C1036.17 361.86 1034.58 362.72 1033.06 363.12 C1031.54 363.51 1029.78 363.51 1028.26 363.12 C1026.74 362.72 1025.16 361.86 1023.94 360.75 C1022.72 359.65 1021.62 358.08 1020.94 356.49 C1020.27 354.89 1019.88 352.94 1019.88 351.17 C1019.88 349.4 1020.27 347.45 1020.94 345.85 C1021.62 344.25 1022.72 342.69 1023.94 341.59 C1025.16 340.48 1026.74 339.61 1028.26 339.22 C1029.78 338.82 1031.54 338.82 1033.06 339.22 C1034.58 339.61 1036.17 340.48 1037.39 341.59 C1038.61 342.69 1039.7 344.25 1040.38 345.85 C1041.06 347.45 1041.45 349.4 1041.45 351.17Z" fill="none" stroke="#a98282" stroke-width="1.25"/>
<path d="M1045.37 350.35 C1045.37 352.9 1044.82 355.71 1043.88 358.01 C1042.94 360.31 1041.41 362.56 1039.71 364.15 C1038.01 365.74 1035.8 366.99 1033.68 367.56 C1031.56 368.13 1029.11 368.13 1026.99 367.56 C1024.87 366.99 1022.66 365.74 1020.96 364.15 C1019.26 362.56 1017.73 360.31 1016.79 358.01 C1015.85 355.71 1015.3 352.9 1015.3 350.35 C1015.3 347.8 1015.85 344.99 1016.79 342.69 C1017.73 340.39 1019.26 338.14 1020.96 336.55 C1022.66 334.96 1024.87 333.71 1026.99 333.14 C1029.11 332.58 1031.56 332.58 1033.68 333.14 C1035.8 333.71 1038.01 334.96 1039.71 336.55 C1041.41 338.14 1042.94 340.39 1043.88 342.69 C1044.82 344.99 1045.37 347.8 1045.37 350.35Z" fill="none" stroke="#a98282" stroke-width="1.25"/>
<path d="M1047.98 349.53 C1047.98 352.73 1047.34 356.23 1046.24 359.11 C1045.13 361.98 1043.34 364.79 1041.34 366.78 C1039.34 368.77 1036.75 370.33 1034.26 371.04 C1031.77 371.75 1028.9 371.75 1026.41 371.04 C1023.92 370.33 1021.33 368.77 1019.33 366.78 C1017.33 364.79 1015.54 361.98 1014.43 359.11 C1013.33 356.23 1012.69 352.73 1012.69 349.53 C1012.69 346.34 1013.33 342.84 1014.43 339.96 C1015.54 337.09 1017.33 334.27 1019.33 332.29 C1021.33 330.3 1023.92 328.73 1026.41 328.02 C1028.9 327.31 1031.77 327.31 1034.26 328.02 C1036.75 328.73 1039.34 330.3 1041.34 332.29 C1043.34 334.27 1045.13 337.09 1046.24 339.96 C1047.34 342.84 1047.98 346.34 1047.98 349.53Z" fill="none" stroke="#a98282" stroke-width="1.25"/>
<path d="M1133.5 373.23 C1132.14 368.33 1126.28 351.17 1125.33 343.81 C1124.38 336.46 1126.15 333.6 1127.78 329.11 C1129.42 324.61 1132.69 320.93 1135.14 316.85 C1137.59 312.76 1139.63 309.36 1142.49 304.59 C1145.35 299.83 1149.16 293.7 1152.3 288.25 C1155.43 282.8 1159.65 275.72 1161.28 271.91 C1162.92 268.09 1160.6 269.46 1162.1 265.37 C1163.6 261.28 1166.73 252.7 1170.27 247.39 C1173.81 242.08 1180.08 237.72 1183.35 233.5 C1186.62 229.28 1187.84 224.3 1189.88 222.06 C1191.93 219.83 1193.83 219.97 1195.6 220.1 C1197.37 220.24 1199.28 221.33 1200.51 222.88 C1201.73 224.43 1202.28 226.69 1202.96 229.42 C1203.64 232.14 1203.91 235.68 1204.59 239.22 C1205.27 242.76 1206.64 245.76 1207.04 250.66 C1207.45 255.56 1207.45 261.83 1207.04 268.64 C1206.64 275.45 1205.41 285.25 1204.59 291.52 C1203.78 297.78 1203.5 300.78 1202.14 306.23 C1200.78 311.67 1198.6 318.21 1196.42 324.2 C1194.24 330.2 1191.79 336.46 1189.07 342.18 C1186.34 347.9 1182.94 353.35 1180.08 358.52 C1177.22 363.7 1173.27 370.78 1171.91 373.23" fill="none" stroke="#a98282" stroke-width="1.25"/>
<path d="M1149.03 370.78 C1144.67 369.69 1141.67 365.74 1139.22 361.79 C1136.77 357.84 1135 352.26 1134.32 347.08 C1133.64 341.91 1134.05 336.19 1135.14 330.74 C1136.23 325.29 1138.27 320.12 1140.86 314.4 C1143.44 308.68 1147.39 302.41 1150.66 296.42 C1153.93 290.43 1157.47 284.98 1160.47 278.44 C1163.46 271.91 1165.64 262.92 1168.64 257.2 C1171.63 251.48 1174.77 247.12 1178.44 244.12 C1182.12 241.13 1187.43 238.95 1190.7 239.22 C1193.97 239.49 1196.15 242.76 1198.06 245.76 C1199.96 248.76 1201.6 252.57 1202.14 257.2 C1202.69 261.83 1201.87 267.28 1201.32 273.54 C1200.78 279.81 1199.96 287.98 1198.87 294.79 C1197.78 301.6 1196.56 307.59 1194.79 314.4 C1193.02 321.21 1190.97 328.83 1188.25 335.64 C1185.53 342.45 1182.26 349.81 1178.44 355.25 C1174.63 360.7 1170.27 365.74 1165.37 368.33 C1160.47 370.92 1153.39 371.87 1149.03 370.78Z" fill="none" stroke="#a98282" stroke-width="1.25"/>
<path d="M1153.93 366.69 C1150.39 365.33 1145.08 360.7 1142.49 356.89 C1139.9 353.08 1138.81 348.44 1138.4 343.81 C1138 339.18 1138.54 334.55 1140.04 329.11 C1141.54 323.66 1144.53 317.39 1147.39 311.13 C1150.25 304.86 1154.2 298.06 1157.2 291.52 C1160.2 284.98 1162.65 278.17 1165.37 271.91 C1168.09 265.64 1170.55 258.29 1173.54 253.93 C1176.54 249.57 1180.35 247.39 1183.35 245.76 C1186.34 244.12 1189.2 243.31 1191.52 244.12 C1193.83 244.94 1195.93 247.12 1197.24 250.66 C1198.55 254.2 1199.23 259.65 1199.36 265.37 C1199.5 271.09 1198.68 278.44 1198.06 284.98 C1197.43 291.52 1196.56 298.6 1195.6 304.59 C1194.65 310.58 1194.11 314.94 1192.34 320.93 C1190.56 326.93 1187.84 334.83 1184.98 340.55 C1182.12 346.27 1178.72 351.17 1175.18 355.25 C1171.63 359.34 1167.28 363.15 1163.74 365.06 C1160.2 366.97 1157.47 368.06 1153.93 366.69Z" fill="none" stroke="#a98282" stroke-width="1.25"/>
<path d="M1155.56 361.79 C1152.57 360.57 1148.07 357.16 1145.76 353.62 C1143.44 350.08 1141.95 344.9 1141.67 340.55 C1141.4 336.19 1142.63 332.1 1144.12 327.47 C1145.62 322.84 1147.94 318.48 1150.66 312.76 C1153.39 307.04 1157.47 299.69 1160.47 293.15 C1163.46 286.62 1165.91 279.53 1168.64 273.54 C1171.36 267.55 1174.09 261.15 1176.81 257.2 C1179.53 253.25 1182.53 251.21 1184.98 249.84 C1187.43 248.48 1189.75 248.07 1191.52 249.03 C1193.29 249.98 1194.65 252.3 1195.6 255.56 C1196.56 258.83 1197.16 263.19 1197.24 268.64 C1197.32 274.09 1196.64 281.99 1196.09 288.25 C1195.55 294.51 1195 300.23 1193.97 306.23 C1192.93 312.22 1191.65 318.76 1189.88 324.2 C1188.11 329.65 1186.07 334.28 1183.35 338.91 C1180.62 343.54 1176.81 348.31 1173.54 351.99 C1170.27 355.66 1166.73 359.34 1163.74 360.97 C1160.74 362.61 1158.56 363.02 1155.56 361.79Z" fill="none" stroke="#a98282" stroke-width="1.25"/>
<path d="M1157.2 357.71 C1154.61 356.62 1150.25 352.8 1148.21 349.53 C1146.17 346.27 1145.08 342.04 1144.94 338.09 C1144.81 334.15 1145.9 330.06 1147.39 325.84 C1148.89 321.62 1151.21 317.94 1153.93 312.76 C1156.65 307.59 1160.74 300.78 1163.74 294.79 C1166.73 288.79 1169.46 282.26 1171.91 276.81 C1174.36 271.36 1176.27 265.78 1178.44 262.1 C1180.62 258.42 1182.94 255.97 1184.98 254.75 C1187.02 253.52 1189.28 253.52 1190.7 254.75 C1192.12 255.97 1192.85 258.7 1193.48 262.1 C1194.11 265.51 1194.46 270.27 1194.46 275.18 C1194.46 280.08 1193.97 285.8 1193.48 291.52 C1192.99 297.24 1192.39 303.78 1191.52 309.5 C1190.65 315.21 1189.88 320.93 1188.25 325.84 C1186.62 330.74 1184.44 334.96 1181.71 338.91 C1178.99 342.86 1174.9 346.67 1171.91 349.53 C1168.91 352.39 1166.19 354.71 1163.74 356.07 C1161.28 357.43 1159.79 358.8 1157.2 357.71Z" fill="none" stroke="#a98282" stroke-width="1.25"/>
<path d="M1158.83 352.8 C1155.84 352.12 1152.43 348.31 1150.66 345.45 C1148.89 342.59 1148.21 339.18 1148.21 335.64 C1148.21 332.1 1149.16 328.02 1150.66 324.2 C1152.16 320.39 1154.48 317.12 1157.2 312.76 C1159.92 308.41 1164.28 302.69 1167 298.06 C1169.73 293.42 1171.91 289.61 1173.54 284.98 C1175.18 280.35 1175.45 274.22 1176.81 270.27 C1178.17 266.32 1179.94 263.05 1181.71 261.28 C1183.48 259.51 1186.07 258.97 1187.43 259.65 C1188.79 260.33 1189.34 262.24 1189.88 265.37 C1190.43 268.5 1190.7 273 1190.7 278.44 C1190.7 283.89 1190.29 292.06 1189.88 298.06 C1189.48 304.05 1189.07 309.22 1188.25 314.4 C1187.43 319.57 1186.62 324.75 1184.98 329.11 C1183.35 333.46 1181.17 337.14 1178.44 340.55 C1175.72 343.95 1171.91 347.49 1168.64 349.53 C1165.37 351.58 1161.83 353.48 1158.83 352.8Z" fill="none" stroke="#a98282" stroke-width="1.25"/>
<path d="M1160.47 347.9 C1157.88 347.22 1154.61 344.63 1153.11 342.18 C1151.62 339.73 1151.34 336.46 1151.48 333.19 C1151.62 329.92 1152.43 326.25 1153.93 322.57 C1155.43 318.89 1158.02 315.21 1160.47 311.13 C1162.92 307.04 1165.91 302.14 1168.64 298.06 C1171.36 293.97 1174.63 289.01 1176.81 286.62 C1178.99 284.22 1180.35 283.54 1181.71 283.67 C1183.07 283.81 1183.89 285.04 1184.98 287.43 C1186.07 289.83 1187.84 293.56 1188.25 298.06 C1188.66 302.55 1188.11 309.22 1187.43 314.4 C1186.75 319.57 1185.93 324.75 1184.16 329.11 C1182.39 333.46 1179.4 337.69 1176.81 340.55 C1174.22 343.41 1171.36 345.04 1168.64 346.27 C1165.91 347.49 1163.05 348.58 1160.47 347.9Z" fill="none" stroke="#a98282" stroke-width="1.25"/>
<path d="M1162.1 342.18 C1160.2 341.36 1156.93 339.18 1155.56 337.28 C1154.2 335.37 1153.79 333.46 1153.93 330.74 C1154.07 328.02 1154.88 324.48 1156.38 320.93 C1157.88 317.39 1160.6 313.04 1162.92 309.5 C1165.23 305.95 1167.96 301.73 1170.27 299.69 C1172.59 297.65 1174.9 297.24 1176.81 297.24 C1178.72 297.24 1180.49 297.92 1181.71 299.69 C1182.94 301.46 1183.89 304.32 1184.16 307.86 C1184.44 311.4 1184.03 317.12 1183.35 320.93 C1182.67 324.75 1181.71 327.74 1180.08 330.74 C1178.44 333.74 1175.72 337 1173.54 338.91 C1171.36 340.82 1168.91 341.64 1167 342.18 C1165.1 342.72 1164.01 343 1162.1 342.18Z" fill="none" stroke="#a98282" stroke-width="1.25"/>
<path d="M1156.38 330.74 C1156.25 327.74 1157.34 323.93 1158.83 320.93 C1160.33 317.94 1163.19 314.89 1165.37 312.76 C1167.55 310.64 1170 308.73 1171.91 308.19 C1173.81 307.64 1175.72 308.19 1176.81 309.5 C1177.9 310.8 1178.44 313.04 1178.44 316.03 C1178.44 319.03 1177.9 324.2 1176.81 327.47 C1175.72 330.74 1173.81 333.6 1171.91 335.64 C1170 337.69 1167.41 339.18 1165.37 339.73 C1163.33 340.27 1161.15 340.41 1159.65 338.91 C1158.15 337.41 1156.52 333.74 1156.38 330.74Z" fill="none" stroke="#a98282" stroke-width="1.25"/>
<path d="M1230.9 349.1 C1230.9 350.45 1230.63 351.92 1230.16 353.14 C1229.69 354.35 1228.92 355.53 1228.08 356.37 C1227.23 357.21 1226.13 357.87 1225.07 358.17 C1224.01 358.47 1222.79 358.47 1221.73 358.17 C1220.67 357.87 1219.57 357.21 1218.72 356.37 C1217.88 355.53 1217.11 354.35 1216.64 353.14 C1216.17 351.92 1215.9 350.45 1215.9 349.1 C1215.9 347.75 1216.17 346.28 1216.64 345.06 C1217.11 343.85 1217.88 342.67 1218.72 341.83 C1219.57 340.99 1220.67 340.33 1221.73 340.03 C1222.79 339.73 1224.01 339.73 1225.07 340.03 C1226.13 340.33 1227.23 340.99 1228.08 341.83 C1228.92 342.67 1229.69 343.85 1230.16 345.06 C1230.63 346.28 1230.9 347.75 1230.9 349.1Z" fill="none" stroke="#a98282" stroke-width="1.25"/>
</g>
<line x1="972.5" y1="75.3" x2="1271.2" y2="75.3" stroke="#1c1c1c" stroke-width="1.4"/>
<line x1="1271.2" y1="75.3" x2="1271.2" y2="372.9" stroke="#1c1c1c" stroke-width="1.4"/>
<line x1="972.5" y1="74.8" x2="972.5" y2="373.9" stroke="#111" stroke-width="1.6"/>
<line x1="972" y1="372.9" x2="1271.8" y2="372.9" stroke="#000" stroke-width="1.45"/>
<rect x="1135.5" y="104.6" width="133.5" height="265.4" fill="none" stroke="#000" stroke-width="1.35"/>
<line x1="1270.4" y1="104.6" x2="1270.4" y2="372.9" stroke="#000" stroke-width="2.6"/>
<rect x="1172.4" y="102.6" width="54" height="4" fill="#ffffff" stroke="none" stroke-width="0"/>
<line x1="1172.4" y1="104.6" x2="1226.4" y2="104.6" stroke="#dadada" stroke-width="1.3"/>
<text x="1173.06" y="110.7" font-family="'Liberation Sans', Arial, Helvetica, sans-serif" font-size="30" fill="#000" textLength="53.6" lengthAdjust="spacingAndGlyphs" font-weight="bold" stroke="#000" stroke-width="0.35" stroke-linejoin="round">TF+</text>
<text x="1171.95" y="140.6" font-family="'Liberation Sans', Arial, Helvetica, sans-serif" font-size="30" fill="#000" textLength="55" lengthAdjust="spacingAndGlyphs" font-weight="bold" stroke="#000" stroke-width="0.35" stroke-linejoin="round">64.0</text>
<line x1="963.5" y1="372" x2="972.5" y2="372" stroke="#000" stroke-width="2.1"/>
<text x="958.9" y="373" font-family="'DejaVu Sans', 'Liberation Sans', sans-serif" font-size="10.2" fill="#333" text-anchor="end" letter-spacing="0.4" stroke="#333" stroke-width="0.28">0</text>
<line x1="967.7" y1="360.66" x2="972.5" y2="360.66" stroke="#1a1a1a" stroke-width="1.45"/>
<line x1="967.7" y1="349.32" x2="972.5" y2="349.32" stroke="#1a1a1a" stroke-width="1.45"/>
<line x1="967.7" y1="337.98" x2="972.5" y2="337.98" stroke="#1a1a1a" stroke-width="1.45"/>
<line x1="967.7" y1="326.64" x2="972.5" y2="326.64" stroke="#1a1a1a" stroke-width="1.45"/>
<line x1="963.5" y1="315.3" x2="972.5" y2="315.3" stroke="#000" stroke-width="2.1"/>
<text x="958.9" y="320.1" font-family="'DejaVu Sans', 'Liberation Sans', sans-serif" font-size="10.2" fill="#333" text-anchor="end" letter-spacing="0.4" stroke="#333" stroke-width="0.28">50K</text>
<line x1="967.7" y1="303.96" x2="972.5" y2="303.96" stroke="#1a1a1a" stroke-width="1.45"/>
<line x1="967.7" y1="292.62" x2="972.5" y2="292.62" stroke="#1a1a1a" stroke-width="1.45"/>
<line x1="967.7" y1="281.28" x2="972.5" y2="281.28" stroke="#1a1a1a" stroke-width="1.45"/>
<line x1="967.7" y1="269.94" x2="972.5" y2="269.94" stroke="#1a1a1a" stroke-width="1.45"/>
<line x1="963.5" y1="258.6" x2="972.5" y2="258.6" stroke="#000" stroke-width="2.1"/>
<text x="958.9" y="263.4" font-family="'DejaVu Sans', 'Liberation Sans', sans-serif" font-size="10.2" fill="#333" text-anchor="end" letter-spacing="0.4" stroke="#333" stroke-width="0.28">100K</text>
<line x1="967.7" y1="247.26" x2="972.5" y2="247.26" stroke="#1a1a1a" stroke-width="1.45"/>
<line x1="967.7" y1="235.92" x2="972.5" y2="235.92" stroke="#1a1a1a" stroke-width="1.45"/>
<line x1="967.7" y1="224.58" x2="972.5" y2="224.58" stroke="#1a1a1a" stroke-width="1.45"/>
<line x1="967.7" y1="213.24" x2="972.5" y2="213.24" stroke="#1a1a1a" stroke-width="1.45"/>
<line x1="963.5" y1="201.9" x2="972.5" y2="201.9" stroke="#000" stroke-width="2.1"/>
<text x="958.9" y="206.7" font-family="'DejaVu Sans', 'Liberation Sans', sans-serif" font-size="10.2" fill="#333" text-anchor="end" letter-spacing="0.4" stroke="#333" stroke-width="0.28">150K</text>
<line x1="967.7" y1="190.56" x2="972.5" y2="190.56" stroke="#1a1a1a" stroke-width="1.45"/>
<line x1="967.7" y1="179.22" x2="972.5" y2="179.22" stroke="#1a1a1a" stroke-width="1.45"/>
<line x1="967.7" y1="167.88" x2="972.5" y2="167.88" stroke="#1a1a1a" stroke-width="1.45"/>
<line x1="967.7" y1="156.54" x2="972.5" y2="156.54" stroke="#1a1a1a" stroke-width="1.45"/>
<line x1="963.5" y1="145.2" x2="972.5" y2="145.2" stroke="#000" stroke-width="2.1"/>
<text x="958.9" y="150" font-family="'DejaVu Sans', 'Liberation Sans', sans-serif" font-size="10.2" fill="#333" text-anchor="end" letter-spacing="0.4" stroke="#333" stroke-width="0.28">200K</text>
<line x1="967.7" y1="133.86" x2="972.5" y2="133.86" stroke="#1a1a1a" stroke-width="1.45"/>
<line x1="967.7" y1="122.52" x2="972.5" y2="122.52" stroke="#1a1a1a" stroke-width="1.45"/>
<line x1="967.7" y1="111.18" x2="972.5" y2="111.18" stroke="#1a1a1a" stroke-width="1.45"/>
<line x1="967.7" y1="99.84" x2="972.5" y2="99.84" stroke="#1a1a1a" stroke-width="1.45"/>
<line x1="963.5" y1="88.5" x2="972.5" y2="88.5" stroke="#000" stroke-width="2.1"/>
<text x="958.9" y="93.3" font-family="'DejaVu Sans', 'Liberation Sans', sans-serif" font-size="10.2" fill="#333" text-anchor="end" letter-spacing="0.4" stroke="#333" stroke-width="0.28">250K</text>
<line x1="967.7" y1="77.16" x2="972.5" y2="77.16" stroke="#1a1a1a" stroke-width="1.45"/>
<line x1="1032" y1="372.9" x2="1032" y2="381.4" stroke="#000" stroke-width="2.1"/>
<text x="1032.8" y="398.9" font-family="'DejaVu Sans', 'Liberation Sans', sans-serif" font-size="10.6" fill="#333" text-anchor="middle" stroke="#333" stroke-width="0.28">0</text>
<line x1="1095.5" y1="372.9" x2="1095.5" y2="381.4" stroke="#000" stroke-width="2.1"/>
<text x="1095" y="398.9" font-family="'DejaVu Sans', 'Liberation Sans', sans-serif" font-size="10.6" fill="#333" stroke="#333" stroke-width="0.28">10</text>
<text x="1109.1" y="391.6" font-family="'DejaVu Sans', 'Liberation Sans', sans-serif" font-size="9.5" fill="#333" stroke="#333" stroke-width="0.28">3</text>
<line x1="1170" y1="372.9" x2="1170" y2="381.4" stroke="#000" stroke-width="2.1"/>
<text x="1169.5" y="398.9" font-family="'DejaVu Sans', 'Liberation Sans', sans-serif" font-size="10.6" fill="#333" stroke="#333" stroke-width="0.28">10</text>
<text x="1183.6" y="391.6" font-family="'DejaVu Sans', 'Liberation Sans', sans-serif" font-size="9.5" fill="#333" stroke="#333" stroke-width="0.28">4</text>
<line x1="1240" y1="372.9" x2="1240" y2="381.4" stroke="#000" stroke-width="2.1"/>
<text x="1239.5" y="398.9" font-family="'DejaVu Sans', 'Liberation Sans', sans-serif" font-size="10.6" fill="#333" stroke="#333" stroke-width="0.28">10</text>
<text x="1253.6" y="391.6" font-family="'DejaVu Sans', 'Liberation Sans', sans-serif" font-size="9.5" fill="#333" stroke="#333" stroke-width="0.28">5</text>
<line x1="1119.64" y1="372.9" x2="1119.64" y2="378.3" stroke="#111" stroke-width="1.45"/>
<line x1="1192.68" y1="372.9" x2="1192.68" y2="378.3" stroke="#111" stroke-width="1.45"/>
<line x1="1133.05" y1="372.9" x2="1133.05" y2="378.3" stroke="#111" stroke-width="1.45"/>
<line x1="1205.28" y1="372.9" x2="1205.28" y2="378.3" stroke="#111" stroke-width="1.45"/>
<line x1="1142.66" y1="372.9" x2="1142.66" y2="378.3" stroke="#111" stroke-width="1.45"/>
<line x1="1214.31" y1="372.9" x2="1214.31" y2="378.3" stroke="#111" stroke-width="1.45"/>
<line x1="1149.66" y1="372.9" x2="1149.66" y2="378.3" stroke="#111" stroke-width="1.45"/>
<line x1="1220.89" y1="372.9" x2="1220.89" y2="378.3" stroke="#111" stroke-width="1.45"/>
<line x1="1155.55" y1="372.9" x2="1155.55" y2="378.3" stroke="#111" stroke-width="1.45"/>
<line x1="1226.42" y1="372.9" x2="1226.42" y2="378.3" stroke="#111" stroke-width="1.45"/>
<line x1="1159.79" y1="372.9" x2="1159.79" y2="378.3" stroke="#111" stroke-width="1.45"/>
<line x1="1230.41" y1="372.9" x2="1230.41" y2="378.3" stroke="#111" stroke-width="1.45"/>
<line x1="1163.59" y1="372.9" x2="1163.59" y2="378.3" stroke="#111" stroke-width="1.45"/>
<line x1="1233.98" y1="372.9" x2="1233.98" y2="378.3" stroke="#111" stroke-width="1.45"/>
<line x1="1166.8" y1="372.9" x2="1166.8" y2="378.3" stroke="#111" stroke-width="1.45"/>
<line x1="1236.99" y1="372.9" x2="1236.99" y2="378.3" stroke="#111" stroke-width="1.45"/>
<line x1="1261.7" y1="372.9" x2="1261.7" y2="378.3" stroke="#111" stroke-width="1.45"/>
<line x1="1050.09" y1="372.9" x2="1050.09" y2="378.3" stroke="#111" stroke-width="1.45"/>
<line x1="1059.13" y1="372.9" x2="1059.13" y2="378.3" stroke="#111" stroke-width="1.45"/>
<line x1="1067.2" y1="372.9" x2="1067.2" y2="378.3" stroke="#111" stroke-width="1.45"/>
<line x1="1073.04" y1="372.9" x2="1073.04" y2="378.3" stroke="#111" stroke-width="1.45"/>
<line x1="1080.04" y1="372.9" x2="1080.04" y2="378.3" stroke="#111" stroke-width="1.45"/>
<line x1="1084.8" y1="372.9" x2="1084.8" y2="378.3" stroke="#111" stroke-width="1.45"/>
<line x1="1089.08" y1="372.9" x2="1089.08" y2="378.3" stroke="#111" stroke-width="1.45"/>
<line x1="1092.29" y1="372.9" x2="1092.29" y2="378.3" stroke="#111" stroke-width="1.45"/>
<line x1="1006" y1="372.9" x2="1006" y2="378.3" stroke="#111" stroke-width="1.45"/>
<line x1="996.7" y1="372.9" x2="996.7" y2="378.3" stroke="#111" stroke-width="1.45"/>
<line x1="989.5" y1="372.9" x2="989.5" y2="378.3" stroke="#111" stroke-width="1.45"/>
<line x1="982" y1="372.9" x2="982" y2="378.3" stroke="#111" stroke-width="1.45"/>
<line x1="975.5" y1="372.9" x2="975.5" y2="378.3" stroke="#111" stroke-width="1.45"/>
<rect x="1015.6" y="372.9" width="24.8" height="4.4" fill="#000" stroke="none" stroke-width="1"/>
<line x1="1016.5" y1="372.9" x2="1016.5" y2="381.1" stroke="#000" stroke-width="2"/>
<line x1="1026.6" y1="372.9" x2="1026.6" y2="381.1" stroke="#000" stroke-width="4.2"/>
<line x1="1039.4" y1="372.9" x2="1039.4" y2="381.1" stroke="#000" stroke-width="2"/>
<text x="1119.6" y="424.2" font-family="'DejaVu Sans', 'Liberation Sans', sans-serif" font-size="12.7" fill="#2a2a2a" textLength="103.6" lengthAdjust="spacingAndGlyphs" text-anchor="middle" stroke="#333" stroke-width="0.28">Comp-PE-A :: TF</text>
<text x="911" y="224" font-family="'DejaVu Sans', 'Liberation Sans', sans-serif" font-size="11.6" fill="#333" transform="rotate(-90 911 224)" textLength="40" lengthAdjust="spacingAndGlyphs" text-anchor="middle" stroke="#333" stroke-width="0.28">SSC-A</text>
</g>
<g id="panel-d">
<text x="1344.68" y="27.5" font-family="'Liberation Sans', Arial, Helvetica, sans-serif" font-size="34.38" fill="#000" textLength="20.1" lengthAdjust="spacingAndGlyphs" font-weight="bold" stroke="#000" stroke-width="0.4" stroke-linejoin="round">d</text>
<rect x="1504.6" y="305.7" width="35.1" height="60.6" fill="#808080" stroke="none" stroke-width="0"/>
<path d="M1504.6 366.3 L1504.6 305.7 L1539.7 305.7 L1539.7 366.3" fill="none" stroke="#000" stroke-width="4.2" stroke-linejoin="miter"/>
<rect x="1563.5" y="332.1" width="35.6" height="34.2" fill="#c893be" stroke="none" stroke-width="0"/>
<path d="M1563.5 366.3 L1563.5 332.1 L1599.1 332.1 L1599.1 366.3" fill="none" stroke="#9b1b0e" stroke-width="4.2" stroke-linejoin="miter"/>
<line x1="1423.3" y1="68.25" x2="1423.3" y2="366.3" stroke="#000" stroke-width="2.9"/>
<line x1="1411.2" y1="366.3" x2="1620.8" y2="366.3" stroke="#000" stroke-width="2.9"/>
<line x1="1462.9" y1="366.3" x2="1462.9" y2="379" stroke="#000" stroke-width="2.9"/>
<line x1="1521.9" y1="366.3" x2="1521.9" y2="379" stroke="#000" stroke-width="2.9"/>
<line x1="1581.3" y1="366.3" x2="1581.3" y2="379" stroke="#000" stroke-width="2.9"/>
<line x1="1411.2" y1="69.7" x2="1423.3" y2="69.7" stroke="#000" stroke-width="2.9"/>
<text x="1358.27" y="82.1" font-family="'Liberation Sans', Arial, Helvetica, sans-serif" font-size="30.42" fill="#000" textLength="47.22" lengthAdjust="spacingAndGlyphs" stroke="#000" stroke-width="0.5" stroke-linejoin="round">100</text>
<line x1="1411.2" y1="129.1" x2="1423.3" y2="129.1" stroke="#000" stroke-width="2.9"/>
<text x="1374.05" y="141.5" font-family="'Liberation Sans', Arial, Helvetica, sans-serif" font-size="30.42" fill="#000" textLength="31.48" lengthAdjust="spacingAndGlyphs" stroke="#000" stroke-width="0.5" stroke-linejoin="round">80</text>
<line x1="1411.2" y1="188.5" x2="1423.3" y2="188.5" stroke="#000" stroke-width="2.9"/>
<text x="1374.05" y="200.9" font-family="'Liberation Sans', Arial, Helvetica, sans-serif" font-size="30.42" fill="#000" textLength="31.48" lengthAdjust="spacingAndGlyphs" stroke="#000" stroke-width="0.5" stroke-linejoin="round">60</text>
<line x1="1411.2" y1="247.7" x2="1423.3" y2="247.7" stroke="#000" stroke-width="2.9"/>
<text x="1374.05" y="260.1" font-family="'Liberation Sans', Arial, Helvetica, sans-serif" font-size="30.42" fill="#000" textLength="31.48" lengthAdjust="spacingAndGlyphs" stroke="#000" stroke-width="0.5" stroke-linejoin="round">40</text>
<line x1="1411.2" y1="307.1" x2="1423.3" y2="307.1" stroke="#000" stroke-width="2.9"/>
<text x="1374.05" y="319.5" font-family="'Liberation Sans', Arial, Helvetica, sans-serif" font-size="30.42" fill="#000" textLength="31.48" lengthAdjust="spacingAndGlyphs" stroke="#000" stroke-width="0.5" stroke-linejoin="round">20</text>
<text x="1389.75" y="378.7" font-family="'Liberation Sans', Arial, Helvetica, sans-serif" font-size="30.42" fill="#000" textLength="15.74" lengthAdjust="spacingAndGlyphs" stroke="#000" stroke-width="0.5" stroke-linejoin="round">0</text>
<text x="1345" y="252.24" font-family="'Liberation Sans', Arial, Helvetica, sans-serif" font-size="29.95" fill="#000" transform="rotate(-90 1345 252.24)" textLength="77.61" lengthAdjust="spacingAndGlyphs" stroke="#000" stroke-width="0.5" stroke-linejoin="round">%TF+</text>
<line x1="1521.8" y1="292.4" x2="1521.8" y2="314.4" stroke="#000" stroke-width="1.5"/>
<line x1="1511.5" y1="292.4" x2="1532.1" y2="292.4" stroke="#000" stroke-width="1.5"/>
<line x1="1511.5" y1="314.4" x2="1532.1" y2="314.4" stroke="#000" stroke-width="1.5"/>
<line x1="1581.3" y1="314.7" x2="1581.3" y2="330" stroke="#9b1b0e" stroke-width="1.5"/>
<line x1="1570.7" y1="314.7" x2="1591.9" y2="314.7" stroke="#9b1b0e" stroke-width="1.5"/>
<circle cx="1448.5" cy="365.2" r="6.05" fill="none" stroke="#808080" stroke-width="4.3"/>
<circle cx="1462.9" cy="365.2" r="6.05" fill="none" stroke="#808080" stroke-width="4.3"/>
<circle cx="1477.3" cy="365.2" r="6.05" fill="none" stroke="#808080" stroke-width="4.3"/>
<circle cx="1521.8" cy="292.4" r="6.05" fill="none" stroke="#000" stroke-width="4.3"/>
<circle cx="1521.8" cy="314.4" r="6.05" fill="none" stroke="#000" stroke-width="4.3"/>
<circle cx="1581.3" cy="176.8" r="6.05" fill="none" stroke="#9b1b0e" stroke-width="4.3"/>
<circle cx="1581.3" cy="246.2" r="6.05" fill="none" stroke="#9b1b0e" stroke-width="4.3"/>
<circle cx="1581.4" cy="328" r="6.05" fill="none" stroke="#9b1b0e" stroke-width="4.3"/>
<circle cx="1574.9" cy="340.7" r="6.05" fill="none" stroke="#9b1b0e" stroke-width="4.3"/>
<circle cx="1587.2" cy="339.6" r="6.05" fill="none" stroke="#9b1b0e" stroke-width="4.3"/>
<circle cx="1570.5" cy="352.3" r="6.05" fill="none" stroke="#9b1b0e" stroke-width="4.3"/>
<circle cx="1577.8" cy="353.8" r="6.05" fill="none" stroke="#9b1b0e" stroke-width="4.3"/>
<circle cx="1583.6" cy="353" r="6.05" fill="none" stroke="#9b1b0e" stroke-width="4.3"/>
<circle cx="1590.9" cy="355.2" r="6.05" fill="none" stroke="#9b1b0e" stroke-width="4.3"/>
<circle cx="1567.3" cy="359.6" r="6.05" fill="none" stroke="#9b1b0e" stroke-width="4.3"/>
<circle cx="1576.3" cy="361" r="6.05" fill="none" stroke="#9b1b0e" stroke-width="4.3"/>
<circle cx="1585.4" cy="364" r="6.05" fill="none" stroke="#9b1b0e" stroke-width="4.3"/>
<circle cx="1595.2" cy="364" r="6.05" fill="none" stroke="#9b1b0e" stroke-width="4.3"/>
<path d="M1462.9 340.7 L1462.9 129.5 L1585.6 129.5 L1585.6 145" fill="none" stroke="#000" stroke-width="1.6"/>
<text x="1487.24" y="114.6" font-family="'Liberation Sans', Arial, Helvetica, sans-serif" font-size="25.33" fill="#000" textLength="73.1" lengthAdjust="spacingAndGlyphs" stroke="#000" stroke-width="0.5" stroke-linejoin="round">0.0036</text>
<text x="1350.93" y="523.97" font-family="'Liberation Sans', Arial, Helvetica, sans-serif" font-size="29.95" fill="#000" transform="rotate(-45 1350.93 523.97)" textLength="168.11" lengthAdjust="spacingAndGlyphs" stroke="#000" stroke-width="0.5" stroke-linejoin="round">Healthy adult</text>
<text x="1370.72" y="563.28" font-family="'Liberation Sans', Arial, Helvetica, sans-serif" font-size="29.95" fill="#000" transform="rotate(-45 1370.72 563.28)" textLength="224.12" lengthAdjust="spacingAndGlyphs" stroke="#000" stroke-width="0.5" stroke-linejoin="round">Inflamed non-IBD</text>
<text x="1549.75" y="444.05" font-family="'Liberation Sans', Arial, Helvetica, sans-serif" font-size="29.95" fill="#000" transform="rotate(-45 1549.75 444.05)" textLength="48.01" lengthAdjust="spacingAndGlyphs" stroke="#000" stroke-width="0.5" stroke-linejoin="round">IBD</text>
</g>
<g id="panel-e">
<text x="1649.08" y="27.9" font-family="'Liberation Sans', Arial, Helvetica, sans-serif" font-size="34.38" fill="#000" textLength="18.3" lengthAdjust="spacingAndGlyphs" font-weight="bold" stroke="#000" stroke-width="0.4" stroke-linejoin="round">e</text>
<rect x="1846.4" y="317.2" width="32.7" height="56.2" fill="#808080" stroke="none" stroke-width="0"/>
<path d="M1846.4 373.4 L1846.4 317.2 L1879.1 317.2 L1879.1 373.4" fill="none" stroke="#000" stroke-width="4.2" stroke-linejoin="miter"/>
<rect x="1902.5" y="301.2" width="32.7" height="72.2" fill="#c583ac" stroke="none" stroke-width="0"/>
<path d="M1902.5 373.4 L1902.5 301.2 L1935.2 301.2 L1935.2 373.4" fill="none" stroke="#9b1b0e" stroke-width="4.2" stroke-linejoin="miter"/>
<rect x="1788.5" y="368.3" width="36" height="5.1" fill="#a9a9a9" stroke="none" stroke-width="0"/>
<line x1="1788.5" y1="368.3" x2="1824.5" y2="368.3" stroke="#808080" stroke-width="1.6"/>
<line x1="1769.2" y1="90.85" x2="1769.2" y2="168.7" stroke="#000" stroke-width="2.9"/>
<line x1="1769.2" y1="192.35" x2="1769.2" y2="373.4" stroke="#000" stroke-width="2.9"/>
<line x1="1757" y1="373.4" x2="1956.2" y2="373.4" stroke="#000" stroke-width="2.9"/>
<line x1="1806.1" y1="373.4" x2="1806.1" y2="385.9" stroke="#000" stroke-width="2.9"/>
<line x1="1862.5" y1="373.4" x2="1862.5" y2="385.9" stroke="#000" stroke-width="2.9"/>
<line x1="1918.6" y1="373.4" x2="1918.6" y2="385.9" stroke="#000" stroke-width="2.9"/>
<line x1="1753.4" y1="92.3" x2="1769.2" y2="92.3" stroke="#000" stroke-width="2.9"/>
<text x="1686.42" y="104.1" font-family="'Liberation Sans', Arial, Helvetica, sans-serif" font-size="30.1" fill="#000" textLength="62.29" lengthAdjust="spacingAndGlyphs" stroke="#000" stroke-width="0.5" stroke-linejoin="round">4000</text>
<line x1="1760.6" y1="168.7" x2="1777.7" y2="168.7" stroke="#000" stroke-width="2.9"/>
<text x="1686.42" y="180.5" font-family="'Liberation Sans', Arial, Helvetica, sans-serif" font-size="30.1" fill="#000" textLength="62.29" lengthAdjust="spacingAndGlyphs" stroke="#000" stroke-width="0.5" stroke-linejoin="round">2000</text>
<line x1="1760.6" y1="193.8" x2="1777.7" y2="193.8" stroke="#000" stroke-width="2.9"/>
<text x="1690.42" y="205.6" font-family="'Liberation Sans', Arial, Helvetica, sans-serif" font-size="30.1" fill="#000" textLength="62.29" lengthAdjust="spacingAndGlyphs" stroke="#000" stroke-width="0.5" stroke-linejoin="round">1000</text>
<line x1="1757" y1="283.5" x2="1769.2" y2="283.5" stroke="#000" stroke-width="2.9"/>
<text x="1705.96" y="295.3" font-family="'Liberation Sans', Arial, Helvetica, sans-serif" font-size="30.1" fill="#000" textLength="46.72" lengthAdjust="spacingAndGlyphs" stroke="#000" stroke-width="0.5" stroke-linejoin="round">500</text>
<text x="1737.11" y="385.2" font-family="'Liberation Sans', Arial, Helvetica, sans-serif" font-size="30.1" fill="#000" textLength="15.57" lengthAdjust="spacingAndGlyphs" stroke="#000" stroke-width="0.5" stroke-linejoin="round">0</text>
<text x="1672.6" y="273.18" font-family="'Liberation Sans', Arial, Helvetica, sans-serif" font-size="28.81" fill="#000" transform="rotate(-90 1672.6 273.18)" textLength="89.23" lengthAdjust="spacingAndGlyphs" stroke="#000" stroke-width="0.5" stroke-linejoin="round">TF MFI</text>
<line x1="1862.6" y1="283.5" x2="1862.6" y2="346.3" stroke="#000" stroke-width="1.5"/>
<line x1="1852.6" y1="283.5" x2="1872.6" y2="283.5" stroke="#000" stroke-width="1.5"/>
<line x1="1852.6" y1="346.3" x2="1872.6" y2="346.3" stroke="#000" stroke-width="1.5"/>
<line x1="1918.8" y1="251.8" x2="1918.8" y2="347" stroke="#9b1b0e" stroke-width="1.5"/>
<line x1="1908.8" y1="251.8" x2="1928.8" y2="251.8" stroke="#9b1b0e" stroke-width="1.5"/>
<circle cx="1793.5" cy="369.3" r="6.05" fill="none" stroke="#808080" stroke-width="4.3"/>
<circle cx="1806.5" cy="366.6" r="6.05" fill="none" stroke="#808080" stroke-width="4.3"/>
<circle cx="1819.4" cy="368.9" r="6.05" fill="none" stroke="#808080" stroke-width="4.3"/>
<circle cx="1862.6" cy="283.5" r="6.05" fill="none" stroke="#000" stroke-width="4.3"/>
<circle cx="1862.6" cy="346.3" r="6.05" fill="none" stroke="#000" stroke-width="4.3"/>
<circle cx="1918.8" cy="120" r="6.05" fill="none" stroke="#9b1b0e" stroke-width="4.3"/>
<circle cx="1918.8" cy="283.5" r="6.05" fill="none" stroke="#9b1b0e" stroke-width="4.3"/>
<circle cx="1918.8" cy="305.8" r="6.05" fill="none" stroke="#9b1b0e" stroke-width="4.3"/>
<circle cx="1915.4" cy="348.5" r="6.05" fill="none" stroke="#9b1b0e" stroke-width="4.3"/>
<circle cx="1922" cy="350" r="6.05" fill="none" stroke="#9b1b0e" stroke-width="4.3"/>
<circle cx="1906" cy="360.3" r="6.05" fill="none" stroke="#9b1b0e" stroke-width="4.3"/>
<circle cx="1912.5" cy="357" r="6.05" fill="none" stroke="#9b1b0e" stroke-width="4.3"/>
<circle cx="1918.8" cy="361.5" r="6.05" fill="none" stroke="#9b1b0e" stroke-width="4.3"/>
<circle cx="1925" cy="357" r="6.05" fill="none" stroke="#9b1b0e" stroke-width="4.3"/>
<circle cx="1931.6" cy="360.3" r="6.05" fill="none" stroke="#9b1b0e" stroke-width="4.3"/>
<path d="M1806.5 346.8 L1806.5 76.9 L1919.5 76.9 L1919.5 96.3" fill="none" stroke="#000" stroke-width="1.6"/>
<text x="1826.89" y="62.4" font-family="'Liberation Sans', Arial, Helvetica, sans-serif" font-size="24.49" fill="#000" textLength="70.66" lengthAdjust="spacingAndGlyphs" stroke="#000" stroke-width="0.5" stroke-linejoin="round">0.0044</text>
<text x="1698.67" y="526.53" font-family="'Liberation Sans', Arial, Helvetica, sans-serif" font-size="28.81" fill="#000" transform="rotate(-45 1698.67 526.53)" textLength="161.69" lengthAdjust="spacingAndGlyphs" stroke="#000" stroke-width="0.5" stroke-linejoin="round">Healthy adult</text>
<text x="1717.38" y="564.32" font-family="'Liberation Sans', Arial, Helvetica, sans-serif" font-size="28.81" fill="#000" transform="rotate(-45 1717.38 564.32)" textLength="215.56" lengthAdjust="spacingAndGlyphs" stroke="#000" stroke-width="0.5" stroke-linejoin="round">Inflamed non-IBD</text>
<text x="1888.35" y="449.85" font-family="'Liberation Sans', Arial, Helvetica, sans-serif" font-size="28.81" fill="#000" transform="rotate(-45 1888.35 449.85)" textLength="46.18" lengthAdjust="spacingAndGlyphs" stroke="#000" stroke-width="0.5" stroke-linejoin="round">IBD</text>
</g>
<g id="panel-g">
<text x="598.98" y="588" font-family="'Liberation Sans', Arial, Helvetica, sans-serif" font-size="34.38" fill="#000" textLength="20.1" lengthAdjust="spacingAndGlyphs" font-weight="bold" stroke="#000" stroke-width="0.4" stroke-linejoin="round">g</text>
<rect x="720.45" y="763.35" width="32.7" height="150.55" fill="#cccccc" stroke="none" stroke-width="0"/>
<path d="M720.45 913.9 L720.45 763.35 L753.15 763.35 L753.15 913.9" fill="none" stroke="#999999" stroke-width="3.7" stroke-linejoin="miter"/>
<rect x="775.85" y="849.25" width="33.1" height="64.65" fill="#969696" stroke="none" stroke-width="0"/>
<path d="M775.85 913.9 L775.85 849.25 L808.95 849.25 L808.95 913.9" fill="none" stroke="#222222" stroke-width="3.7" stroke-linejoin="miter"/>
<rect x="831.55" y="857.85" width="33.1" height="56.05" fill="#c8837f" stroke="none" stroke-width="0"/>
<path d="M831.55 913.9 L831.55 857.85 L864.65 857.85 L864.65 913.9" fill="none" stroke="#9b1b0e" stroke-width="3.7" stroke-linejoin="miter"/>
<line x1="699.7" y1="634.23" x2="699.7" y2="913.9" stroke="#000" stroke-width="2.75"/>
<line x1="688.5" y1="913.9" x2="884.7" y2="913.9" stroke="#000" stroke-width="2.75"/>
<line x1="736.6" y1="913.9" x2="736.6" y2="925.3" stroke="#000" stroke-width="2.75"/>
<line x1="792.4" y1="913.9" x2="792.4" y2="925.3" stroke="#000" stroke-width="2.75"/>
<line x1="848.2" y1="913.9" x2="848.2" y2="925.3" stroke="#000" stroke-width="2.75"/>
<line x1="688.5" y1="635.6" x2="699.7" y2="635.6" stroke="#000" stroke-width="2.75"/>
<text x="652.89" y="647.8" font-family="'Liberation Sans', Arial, Helvetica, sans-serif" font-size="29.78" fill="#000" textLength="30.81" lengthAdjust="spacingAndGlyphs" stroke="#000" stroke-width="0.5" stroke-linejoin="round">80</text>
<line x1="688.5" y1="704.9" x2="699.7" y2="704.9" stroke="#000" stroke-width="2.75"/>
<text x="652.89" y="717.1" font-family="'Liberation Sans', Arial, Helvetica, sans-serif" font-size="29.78" fill="#000" textLength="30.81" lengthAdjust="spacingAndGlyphs" stroke="#000" stroke-width="0.5" stroke-linejoin="round">60</text>
<line x1="688.5" y1="774.1" x2="699.7" y2="774.1" stroke="#000" stroke-width="2.75"/>
<text x="652.89" y="786.3" font-family="'Liberation Sans', Arial, Helvetica, sans-serif" font-size="29.78" fill="#000" textLength="30.81" lengthAdjust="spacingAndGlyphs" stroke="#000" stroke-width="0.5" stroke-linejoin="round">40</text>
<line x1="688.5" y1="844.3" x2="699.7" y2="844.3" stroke="#000" stroke-width="2.75"/>
<text x="652.89" y="856.5" font-family="'Liberation Sans', Arial, Helvetica, sans-serif" font-size="29.78" fill="#000" textLength="30.81" lengthAdjust="spacingAndGlyphs" stroke="#000" stroke-width="0.5" stroke-linejoin="round">20</text>
<text x="668.27" y="926.1" font-family="'Liberation Sans', Arial, Helvetica, sans-serif" font-size="29.78" fill="#000" textLength="15.41" lengthAdjust="spacingAndGlyphs" stroke="#000" stroke-width="0.5" stroke-linejoin="round">0</text>
<text x="639.25" y="858.28" font-family="'Liberation Sans', Arial, Helvetica, sans-serif" font-size="28.18" fill="#000" transform="rotate(-90 639.25 858.28)" textLength="176.22" lengthAdjust="spacingAndGlyphs" stroke="#000" stroke-width="0.5" stroke-linejoin="round">Lagtime [mins]</text>
<line x1="736.6" y1="748" x2="736.6" y2="774.1" stroke="#999999" stroke-width="1.5"/>
<line x1="727" y1="748" x2="746.2" y2="748" stroke="#999999" stroke-width="1.5"/>
<line x1="727" y1="774.1" x2="746.2" y2="774.1" stroke="#999999" stroke-width="1.5"/>
<line x1="792.4" y1="820" x2="792.4" y2="874" stroke="#222222" stroke-width="1.5"/>
<line x1="782.8" y1="820" x2="802" y2="820" stroke="#222222" stroke-width="1.5"/>
<line x1="782.8" y1="874" x2="802" y2="874" stroke="#222222" stroke-width="1.5"/>
<line x1="848.2" y1="851" x2="848.2" y2="861" stroke="#9b1b0e" stroke-width="1.5"/>
<line x1="838.6" y1="851" x2="857.8" y2="851" stroke="#9b1b0e" stroke-width="1.5"/>
<line x1="838.6" y1="861" x2="857.8" y2="861" stroke="#9b1b0e" stroke-width="1.5"/>
<circle cx="736.6" cy="712.6" r="5.75" fill="none" stroke="#999999" stroke-width="4"/>
<circle cx="736.6" cy="742.2" r="5.75" fill="none" stroke="#999999" stroke-width="4"/>
<circle cx="723.5" cy="763.3" r="5.75" fill="none" stroke="#999999" stroke-width="4"/>
<circle cx="751" cy="767.8" r="5.75" fill="none" stroke="#999999" stroke-width="4"/>
<circle cx="736.6" cy="774.1" r="5.75" fill="none" stroke="#999999" stroke-width="4"/>
<circle cx="736.6" cy="804.3" r="5.75" fill="none" stroke="#999999" stroke-width="4"/>
<circle cx="792.4" cy="820" r="5.75" fill="none" stroke="#222222" stroke-width="4"/>
<circle cx="792.4" cy="874" r="5.75" fill="none" stroke="#222222" stroke-width="4"/>
<circle cx="840" cy="828.1" r="5.75" fill="none" stroke="#9b1b0e" stroke-width="4"/>
<circle cx="838.3" cy="841.6" r="5.75" fill="none" stroke="#9b1b0e" stroke-width="4"/>
<circle cx="848.2" cy="838" r="5.75" fill="none" stroke="#9b1b0e" stroke-width="4"/>
<circle cx="857.2" cy="840.7" r="5.75" fill="none" stroke="#9b1b0e" stroke-width="4"/>
<circle cx="843.5" cy="845.5" r="5.75" fill="none" stroke="#9b1b0e" stroke-width="4"/>
<circle cx="852.5" cy="845" r="5.75" fill="none" stroke="#9b1b0e" stroke-width="4"/>
<circle cx="842.8" cy="850.6" r="5.75" fill="none" stroke="#9b1b0e" stroke-width="4"/>
<circle cx="851.8" cy="850.6" r="5.75" fill="none" stroke="#9b1b0e" stroke-width="4"/>
<circle cx="833.8" cy="873.1" r="5.75" fill="none" stroke="#9b1b0e" stroke-width="4"/>
<circle cx="841" cy="870.4" r="5.75" fill="none" stroke="#9b1b0e" stroke-width="4"/>
<circle cx="848.2" cy="873.1" r="5.75" fill="none" stroke="#9b1b0e" stroke-width="4"/>
<circle cx="855.4" cy="875.8" r="5.75" fill="none" stroke="#9b1b0e" stroke-width="4"/>
<circle cx="862.6" cy="873.1" r="5.75" fill="none" stroke="#9b1b0e" stroke-width="4"/>
<path d="M738.4 700.4 L738.4 686 L848.2 686 L848.2 804.7" fill="none" stroke="#000" stroke-width="1.6"/>
<text x="752.09" y="671.5" font-family="'Liberation Sans', Arial, Helvetica, sans-serif" font-size="23.53" fill="#000" textLength="80.87" lengthAdjust="spacingAndGlyphs" stroke="#000" stroke-width="0.5" stroke-linejoin="round">&lt;0.0001</text>
<text x="632.67" y="1062.73" font-family="'Liberation Sans', Arial, Helvetica, sans-serif" font-size="27.98" fill="#000" transform="rotate(-45 632.67 1062.73)" textLength="157.02" lengthAdjust="spacingAndGlyphs" stroke="#000" stroke-width="0.5" stroke-linejoin="round">Healthy adult</text>
<text x="652.68" y="1098.42" font-family="'Liberation Sans', Arial, Helvetica, sans-serif" font-size="27.98" fill="#000" transform="rotate(-45 652.68 1098.42)" textLength="209.34" lengthAdjust="spacingAndGlyphs" stroke="#000" stroke-width="0.5" stroke-linejoin="round">Inflamed non-IBD</text>
<text x="823.89" y="981.91" font-family="'Liberation Sans', Arial, Helvetica, sans-serif" font-size="27.98" fill="#000" transform="rotate(-45 823.89 981.91)" textLength="44.84" lengthAdjust="spacingAndGlyphs" stroke="#000" stroke-width="0.5" stroke-linejoin="round">IBD</text>
</g>
<g id="panel-h">
<text x="966.9" y="588.7" font-family="'Liberation Sans', Arial, Helvetica, sans-serif" font-size="34.38" fill="#000" textLength="20.1" lengthAdjust="spacingAndGlyphs" font-weight="bold" stroke="#000" stroke-width="0.4" stroke-linejoin="round">h</text>
<rect x="1111.35" y="902.85" width="32.8" height="9.25" fill="#cccccc" stroke="none" stroke-width="0"/>
<path d="M1111.35 912.1 L1111.35 902.85 L1144.15 902.85 L1144.15 912.1" fill="none" stroke="#999999" stroke-width="3.7" stroke-linejoin="miter"/>
<rect x="1166.85" y="785.85" width="33.2" height="126.25" fill="#969696" stroke="none" stroke-width="0"/>
<path d="M1166.85 912.1 L1166.85 785.85 L1200.05 785.85 L1200.05 912.1" fill="none" stroke="#222222" stroke-width="3.7" stroke-linejoin="miter"/>
<rect x="1222.65" y="785.85" width="33.2" height="126.25" fill="#c8837f" stroke="none" stroke-width="0"/>
<path d="M1222.65 912.1 L1222.65 785.85 L1255.85 785.85 L1255.85 912.1" fill="none" stroke="#9b1b0e" stroke-width="3.7" stroke-linejoin="miter"/>
<line x1="1090.6" y1="631.52" x2="1090.6" y2="912.1" stroke="#000" stroke-width="2.75"/>
<line x1="1079.1" y1="912.1" x2="1276.2" y2="912.1" stroke="#000" stroke-width="2.75"/>
<line x1="1127.7" y1="912.1" x2="1127.7" y2="923.8" stroke="#000" stroke-width="2.75"/>
<line x1="1183.3" y1="912.1" x2="1183.3" y2="923.8" stroke="#000" stroke-width="2.75"/>
<line x1="1239.3" y1="912.1" x2="1239.3" y2="923.8" stroke="#000" stroke-width="2.75"/>
<line x1="1079.1" y1="632.9" x2="1090.6" y2="632.9" stroke="#000" stroke-width="2.75"/>
<text x="1028.05" y="645.1" font-family="'Liberation Sans', Arial, Helvetica, sans-serif" font-size="29.78" fill="#000" textLength="46.22" lengthAdjust="spacingAndGlyphs" stroke="#000" stroke-width="0.5" stroke-linejoin="round">800</text>
<line x1="1079.1" y1="702.5" x2="1090.6" y2="702.5" stroke="#000" stroke-width="2.75"/>
<text x="1028.05" y="714.7" font-family="'Liberation Sans', Arial, Helvetica, sans-serif" font-size="29.78" fill="#000" textLength="46.22" lengthAdjust="spacingAndGlyphs" stroke="#000" stroke-width="0.5" stroke-linejoin="round">600</text>
<line x1="1079.1" y1="772.3" x2="1090.6" y2="772.3" stroke="#000" stroke-width="2.75"/>
<text x="1028.05" y="784.5" font-family="'Liberation Sans', Arial, Helvetica, sans-serif" font-size="29.78" fill="#000" textLength="46.22" lengthAdjust="spacingAndGlyphs" stroke="#000" stroke-width="0.5" stroke-linejoin="round">400</text>
<line x1="1079.1" y1="842.1" x2="1090.6" y2="842.1" stroke="#000" stroke-width="2.75"/>
<text x="1028.05" y="854.3" font-family="'Liberation Sans', Arial, Helvetica, sans-serif" font-size="29.78" fill="#000" textLength="46.22" lengthAdjust="spacingAndGlyphs" stroke="#000" stroke-width="0.5" stroke-linejoin="round">200</text>
<text x="1058.87" y="924.3" font-family="'Liberation Sans', Arial, Helvetica, sans-serif" font-size="29.78" fill="#000" textLength="15.41" lengthAdjust="spacingAndGlyphs" stroke="#000" stroke-width="0.5" stroke-linejoin="round">0</text>
<text x="1014" y="888.17" font-family="'Liberation Sans', Arial, Helvetica, sans-serif" font-size="27.46" fill="#000" transform="rotate(-90 1014 888.17)" textLength="240.13" lengthAdjust="spacingAndGlyphs" stroke="#000" stroke-width="0.5" stroke-linejoin="round">Peak Thrombin (nM)</text>
<line x1="1183.3" y1="707" x2="1183.3" y2="861.4" stroke="#222222" stroke-width="1.5"/>
<line x1="1173.7" y1="707" x2="1192.9" y2="707" stroke="#222222" stroke-width="1.5"/>
<line x1="1173.7" y1="861.4" x2="1192.9" y2="861.4" stroke="#222222" stroke-width="1.5"/>
<line x1="1239.3" y1="762.4" x2="1239.3" y2="804.7" stroke="#9b1b0e" stroke-width="1.5"/>
<line x1="1229.4" y1="762.4" x2="1249.2" y2="762.4" stroke="#9b1b0e" stroke-width="1.5"/>
<line x1="1229.4" y1="804.7" x2="1249.2" y2="804.7" stroke="#9b1b0e" stroke-width="1.5"/>
<circle cx="1114.6" cy="902.8" r="5.75" fill="none" stroke="#999999" stroke-width="4"/>
<circle cx="1119.1" cy="895.6" r="5.75" fill="none" stroke="#999999" stroke-width="4"/>
<circle cx="1129" cy="895.6" r="5.75" fill="none" stroke="#999999" stroke-width="4"/>
<circle cx="1141.2" cy="896.5" r="5.75" fill="none" stroke="#999999" stroke-width="4"/>
<circle cx="1123.6" cy="903.5" r="5.75" fill="none" stroke="#999999" stroke-width="4"/>
<circle cx="1135.3" cy="907.3" r="5.75" fill="none" stroke="#999999" stroke-width="4"/>
<circle cx="1183.3" cy="707" r="5.75" fill="none" stroke="#222222" stroke-width="4"/>
<circle cx="1183.3" cy="861.4" r="5.75" fill="none" stroke="#222222" stroke-width="4"/>
<circle cx="1234.6" cy="676.1" r="5.75" fill="none" stroke="#9b1b0e" stroke-width="4"/>
<circle cx="1244.2" cy="679.7" r="5.75" fill="none" stroke="#9b1b0e" stroke-width="4"/>
<circle cx="1234.3" cy="689.6" r="5.75" fill="none" stroke="#9b1b0e" stroke-width="4"/>
<circle cx="1234.3" cy="709.4" r="5.75" fill="none" stroke="#9b1b0e" stroke-width="4"/>
<circle cx="1244.2" cy="714.4" r="5.75" fill="none" stroke="#9b1b0e" stroke-width="4"/>
<circle cx="1238.8" cy="800.2" r="5.75" fill="none" stroke="#9b1b0e" stroke-width="4"/>
<circle cx="1238.8" cy="817.7" r="5.75" fill="none" stroke="#9b1b0e" stroke-width="4"/>
<circle cx="1243.8" cy="829" r="5.75" fill="none" stroke="#9b1b0e" stroke-width="4"/>
<circle cx="1234.6" cy="838.5" r="5.75" fill="none" stroke="#9b1b0e" stroke-width="4"/>
<circle cx="1226.5" cy="859.6" r="5.75" fill="none" stroke="#9b1b0e" stroke-width="4"/>
<circle cx="1235.2" cy="856" r="5.75" fill="none" stroke="#9b1b0e" stroke-width="4"/>
<circle cx="1243.8" cy="860.5" r="5.75" fill="none" stroke="#9b1b0e" stroke-width="4"/>
<circle cx="1252.8" cy="856.5" r="5.75" fill="none" stroke="#9b1b0e" stroke-width="4"/>
<path d="M1124.8 861.7 L1124.8 634.3 L1239.7 634.3 L1239.7 663.1" fill="none" stroke="#000" stroke-width="1.6"/>
<text x="1147.45" y="620.7" font-family="'Liberation Sans', Arial, Helvetica, sans-serif" font-size="23.8" fill="#000" textLength="68.67" lengthAdjust="spacingAndGlyphs" stroke="#000" stroke-width="0.5" stroke-linejoin="round">0.0020</text>
<text x="1023.77" y="1060.93" font-family="'Liberation Sans', Arial, Helvetica, sans-serif" font-size="27.98" fill="#000" transform="rotate(-45 1023.77 1060.93)" textLength="157.02" lengthAdjust="spacingAndGlyphs" stroke="#000" stroke-width="0.5" stroke-linejoin="round">Healthy adult</text>
<text x="1043.58" y="1096.62" font-family="'Liberation Sans', Arial, Helvetica, sans-serif" font-size="27.98" fill="#000" transform="rotate(-45 1043.58 1096.62)" textLength="209.34" lengthAdjust="spacingAndGlyphs" stroke="#000" stroke-width="0.5" stroke-linejoin="round">Inflamed non-IBD</text>
<text x="1214.99" y="980.11" font-family="'Liberation Sans', Arial, Helvetica, sans-serif" font-size="27.98" fill="#000" transform="rotate(-45 1214.99 980.11)" textLength="44.84" lengthAdjust="spacingAndGlyphs" stroke="#000" stroke-width="0.5" stroke-linejoin="round">IBD</text>
</g>
<g id="panel-i">
<text x="1314.7" y="588.4" font-family="'Liberation Sans', Arial, Helvetica, sans-serif" font-size="34.38" fill="#000" textLength="9.14" lengthAdjust="spacingAndGlyphs" font-weight="bold" stroke="#000" stroke-width="0.4" stroke-linejoin="round">i</text>
<rect x="1454.8" y="872.3" width="33.6" height="34.1" fill="#cccccc" stroke="none" stroke-width="0"/>
<path d="M1454.8 906.4 L1454.8 872.3 L1488.4 872.3 L1488.4 906.4" fill="none" stroke="#999999" stroke-width="3.8" stroke-linejoin="miter"/>
<rect x="1512.4" y="723.3" width="33.4" height="183.1" fill="#969696" stroke="none" stroke-width="0"/>
<path d="M1512.4 906.4 L1512.4 723.3 L1545.8 723.3 L1545.8 906.4" fill="none" stroke="#222222" stroke-width="3.8" stroke-linejoin="miter"/>
<rect x="1569.1" y="714" width="34" height="192.4" fill="#c8837f" stroke="none" stroke-width="0"/>
<path d="M1569.1 906.4 L1569.1 714 L1603.1 714 L1603.1 906.4" fill="none" stroke="#9b1b0e" stroke-width="3.8" stroke-linejoin="miter"/>
<line x1="1433.6" y1="618.92" x2="1433.6" y2="906.4" stroke="#000" stroke-width="2.75"/>
<line x1="1422.3" y1="906.4" x2="1623.9" y2="906.4" stroke="#000" stroke-width="2.75"/>
<line x1="1471.8" y1="906.4" x2="1471.8" y2="919" stroke="#000" stroke-width="2.75"/>
<line x1="1528.8" y1="906.4" x2="1528.8" y2="919" stroke="#000" stroke-width="2.75"/>
<line x1="1586.1" y1="906.4" x2="1586.1" y2="919" stroke="#000" stroke-width="2.75"/>
<line x1="1422.3" y1="620.3" x2="1433.6" y2="620.3" stroke="#000" stroke-width="2.75"/>
<text x="1355.48" y="632.5" font-family="'Liberation Sans', Arial, Helvetica, sans-serif" font-size="29.78" fill="#000" textLength="61.62" lengthAdjust="spacingAndGlyphs" stroke="#000" stroke-width="0.5" stroke-linejoin="round">4000</text>
<line x1="1422.3" y1="692.3" x2="1433.6" y2="692.3" stroke="#000" stroke-width="2.75"/>
<text x="1355.48" y="704.5" font-family="'Liberation Sans', Arial, Helvetica, sans-serif" font-size="29.78" fill="#000" textLength="61.62" lengthAdjust="spacingAndGlyphs" stroke="#000" stroke-width="0.5" stroke-linejoin="round">3000</text>
<line x1="1422.3" y1="763.3" x2="1433.6" y2="763.3" stroke="#000" stroke-width="2.75"/>
<text x="1355.48" y="775.5" font-family="'Liberation Sans', Arial, Helvetica, sans-serif" font-size="29.78" fill="#000" textLength="61.62" lengthAdjust="spacingAndGlyphs" stroke="#000" stroke-width="0.5" stroke-linejoin="round">2000</text>
<line x1="1422.3" y1="834.4" x2="1433.6" y2="834.4" stroke="#000" stroke-width="2.75"/>
<text x="1355.48" y="846.6" font-family="'Liberation Sans', Arial, Helvetica, sans-serif" font-size="29.78" fill="#000" textLength="61.62" lengthAdjust="spacingAndGlyphs" stroke="#000" stroke-width="0.5" stroke-linejoin="round">1000</text>
<text x="1401.67" y="918.6" font-family="'Liberation Sans', Arial, Helvetica, sans-serif" font-size="29.78" fill="#000" textLength="15.41" lengthAdjust="spacingAndGlyphs" stroke="#000" stroke-width="0.5" stroke-linejoin="round">0</text>
<text x="1342" y="842.87" font-family="'Liberation Sans', Arial, Helvetica, sans-serif" font-size="28.18" fill="#000" transform="rotate(-90 1342 842.87)" textLength="166.64" lengthAdjust="spacingAndGlyphs" stroke="#000" stroke-width="0.5" stroke-linejoin="round">ETP (nM/min)</text>
<line x1="1528.8" y1="698.2" x2="1528.8" y2="744" stroke="#222222" stroke-width="1.5"/>
<line x1="1519.2" y1="698.2" x2="1538.4" y2="698.2" stroke="#222222" stroke-width="1.5"/>
<line x1="1519.2" y1="744" x2="1538.4" y2="744" stroke="#222222" stroke-width="1.5"/>
<line x1="1586.1" y1="701.8" x2="1586.1" y2="722" stroke="#9b1b0e" stroke-width="1.5"/>
<line x1="1576.2" y1="701.8" x2="1596" y2="701.8" stroke="#9b1b0e" stroke-width="1.5"/>
<line x1="1576.2" y1="722" x2="1596" y2="722" stroke="#9b1b0e" stroke-width="1.5"/>
<circle cx="1458.3" cy="864.1" r="5.9" fill="none" stroke="#999999" stroke-width="4.1"/>
<circle cx="1471.8" cy="859.6" r="5.9" fill="none" stroke="#999999" stroke-width="4.1"/>
<circle cx="1485.3" cy="853.8" r="5.9" fill="none" stroke="#999999" stroke-width="4.1"/>
<circle cx="1485.3" cy="866.8" r="5.9" fill="none" stroke="#999999" stroke-width="4.1"/>
<circle cx="1471.8" cy="874.9" r="5.9" fill="none" stroke="#999999" stroke-width="4.1"/>
<circle cx="1471.8" cy="890.2" r="5.9" fill="none" stroke="#999999" stroke-width="4.1"/>
<circle cx="1528.8" cy="698.2" r="5.9" fill="none" stroke="#222222" stroke-width="4.1"/>
<circle cx="1528.8" cy="744" r="5.9" fill="none" stroke="#222222" stroke-width="4.1"/>
<circle cx="1576.2" cy="659" r="5.9" fill="none" stroke="#9b1b0e" stroke-width="4.1"/>
<circle cx="1585.2" cy="665.3" r="5.9" fill="none" stroke="#9b1b0e" stroke-width="4.1"/>
<circle cx="1595.1" cy="659" r="5.9" fill="none" stroke="#9b1b0e" stroke-width="4.1"/>
<circle cx="1580.7" cy="688.7" r="5.9" fill="none" stroke="#9b1b0e" stroke-width="4.1"/>
<circle cx="1589.7" cy="684.2" r="5.9" fill="none" stroke="#9b1b0e" stroke-width="4.1"/>
<circle cx="1585.2" cy="713" r="5.9" fill="none" stroke="#9b1b0e" stroke-width="4.1"/>
<circle cx="1572.6" cy="729.2" r="5.9" fill="none" stroke="#9b1b0e" stroke-width="4.1"/>
<circle cx="1581.6" cy="732.8" r="5.9" fill="none" stroke="#9b1b0e" stroke-width="4.1"/>
<circle cx="1590.6" cy="732.8" r="5.9" fill="none" stroke="#9b1b0e" stroke-width="4.1"/>
<circle cx="1599.6" cy="734.6" r="5.9" fill="none" stroke="#9b1b0e" stroke-width="4.1"/>
<circle cx="1580.7" cy="743.6" r="5.9" fill="none" stroke="#9b1b0e" stroke-width="4.1"/>
<circle cx="1590.6" cy="749" r="5.9" fill="none" stroke="#9b1b0e" stroke-width="4.1"/>
<circle cx="1586.1" cy="759.7" r="5.9" fill="none" stroke="#9b1b0e" stroke-width="4.1"/>
<path d="M1471.8 832.6 L1471.8 642.8 L1587 642.8 L1587 642.8" fill="none" stroke="#000" stroke-width="1.6"/>
<text x="1487.02" y="626.5" font-family="'Liberation Sans', Arial, Helvetica, sans-serif" font-size="24.01" fill="#000" textLength="82.51" lengthAdjust="spacingAndGlyphs" stroke="#000" stroke-width="0.5" stroke-linejoin="round">&lt;0.0001</text>
<text x="1363.33" y="1059.77" font-family="'Liberation Sans', Arial, Helvetica, sans-serif" font-size="29.12" fill="#000" transform="rotate(-45 1363.33 1059.77)" textLength="163.44" lengthAdjust="spacingAndGlyphs" stroke="#000" stroke-width="0.5" stroke-linejoin="round">Healthy adult</text>
<text x="1383.02" y="1096.98" font-family="'Liberation Sans', Arial, Helvetica, sans-serif" font-size="29.12" fill="#000" transform="rotate(-45 1383.02 1096.98)" textLength="217.9" lengthAdjust="spacingAndGlyphs" stroke="#000" stroke-width="0.5" stroke-linejoin="round">Inflamed non-IBD</text>
<text x="1560.49" y="975.71" font-family="'Liberation Sans', Arial, Helvetica, sans-serif" font-size="29.12" fill="#000" transform="rotate(-45 1560.49 975.71)" textLength="46.68" lengthAdjust="spacingAndGlyphs" stroke="#000" stroke-width="0.5" stroke-linejoin="round">IBD</text>
</g>
<g id="panel-j">
<text x="1640.69" y="599.3" font-family="'Liberation Sans', Arial, Helvetica, sans-serif" font-size="34.38" fill="#000" textLength="9.14" lengthAdjust="spacingAndGlyphs" font-weight="bold" stroke="#000" stroke-width="0.4" stroke-linejoin="round">j</text>
<rect x="1830.45" y="889.85" width="33.2" height="24.05" fill="#bebebe" stroke="none" stroke-width="0"/>
<path d="M1830.45 913.9 L1830.45 889.85 L1863.65 889.85 L1863.65 913.9" fill="none" stroke="#808080" stroke-width="3.7" stroke-linejoin="miter"/>
<rect x="1886.25" y="814.65" width="33.6" height="99.25" fill="#969696" stroke="none" stroke-width="0"/>
<path d="M1886.25 913.9 L1886.25 814.65 L1919.85 814.65 L1919.85 913.9" fill="none" stroke="#222222" stroke-width="3.7" stroke-linejoin="miter"/>
<rect x="1942.05" y="792.85" width="33.6" height="121.05" fill="#c8837f" stroke="none" stroke-width="0"/>
<path d="M1942.05 913.9 L1942.05 792.85 L1975.65 792.85 L1975.65 913.9" fill="none" stroke="#9b1b0e" stroke-width="3.7" stroke-linejoin="miter"/>
<line x1="1810.1" y1="632.83" x2="1810.1" y2="913.9" stroke="#000" stroke-width="2.75"/>
<line x1="1798.4" y1="913.9" x2="1996" y2="913.9" stroke="#000" stroke-width="2.75"/>
<line x1="1847" y1="913.9" x2="1847" y2="925.3" stroke="#000" stroke-width="2.75"/>
<line x1="1903.1" y1="913.9" x2="1903.1" y2="925.3" stroke="#000" stroke-width="2.75"/>
<line x1="1958.9" y1="913.9" x2="1958.9" y2="925.3" stroke="#000" stroke-width="2.75"/>
<line x1="1798.4" y1="634.2" x2="1810.1" y2="634.2" stroke="#000" stroke-width="2.75"/>
<text x="1747.45" y="646.4" font-family="'Liberation Sans', Arial, Helvetica, sans-serif" font-size="29.78" fill="#000" textLength="46.22" lengthAdjust="spacingAndGlyphs" stroke="#000" stroke-width="0.5" stroke-linejoin="round">150</text>
<line x1="1798.4" y1="727.7" x2="1810.1" y2="727.7" stroke="#000" stroke-width="2.75"/>
<text x="1747.45" y="739.9" font-family="'Liberation Sans', Arial, Helvetica, sans-serif" font-size="29.78" fill="#000" textLength="46.22" lengthAdjust="spacingAndGlyphs" stroke="#000" stroke-width="0.5" stroke-linejoin="round">100</text>
<line x1="1798.4" y1="820.9" x2="1810.1" y2="820.9" stroke="#000" stroke-width="2.75"/>
<text x="1762.89" y="833.1" font-family="'Liberation Sans', Arial, Helvetica, sans-serif" font-size="29.78" fill="#000" textLength="30.81" lengthAdjust="spacingAndGlyphs" stroke="#000" stroke-width="0.5" stroke-linejoin="round">50</text>
<text x="1778.27" y="926.1" font-family="'Liberation Sans', Arial, Helvetica, sans-serif" font-size="29.78" fill="#000" textLength="15.41" lengthAdjust="spacingAndGlyphs" stroke="#000" stroke-width="0.5" stroke-linejoin="round">0</text>
<text x="1734.7" y="839.3" font-family="'Liberation Sans', Arial, Helvetica, sans-serif" font-size="27.46" fill="#000" transform="rotate(-90 1734.7 839.3)" textLength="137.89" lengthAdjust="spacingAndGlyphs" stroke="#000" stroke-width="0.5" stroke-linejoin="round">FXa (ng/ml)</text>
<line x1="1847" y1="884.4" x2="1847" y2="891" stroke="#808080" stroke-width="1.5"/>
<line x1="1837.4" y1="884.4" x2="1856.6" y2="884.4" stroke="#808080" stroke-width="1.5"/>
<line x1="1903.1" y1="784.4" x2="1903.1" y2="840.7" stroke="#222222" stroke-width="1.5"/>
<line x1="1893.5" y1="784.4" x2="1912.7" y2="784.4" stroke="#222222" stroke-width="1.5"/>
<line x1="1893.5" y1="840.7" x2="1912.7" y2="840.7" stroke="#222222" stroke-width="1.5"/>
<circle cx="1834" cy="894.7" r="5.75" fill="none" stroke="#808080" stroke-width="4"/>
<circle cx="1847" cy="886.6" r="5.75" fill="none" stroke="#808080" stroke-width="4"/>
<circle cx="1860" cy="877.6" r="5.75" fill="none" stroke="#808080" stroke-width="4"/>
<circle cx="1860" cy="890.5" r="5.75" fill="none" stroke="#808080" stroke-width="4"/>
<circle cx="1903.1" cy="784.4" r="5.75" fill="none" stroke="#222222" stroke-width="4"/>
<circle cx="1903.1" cy="840.7" r="5.75" fill="none" stroke="#222222" stroke-width="4"/>
<circle cx="1955.9" cy="728.8" r="5.75" fill="none" stroke="#9b1b0e" stroke-width="4"/>
<circle cx="1962.2" cy="730.6" r="5.75" fill="none" stroke="#9b1b0e" stroke-width="4"/>
<circle cx="1946" cy="793.9" r="5.75" fill="none" stroke="#9b1b0e" stroke-width="4"/>
<circle cx="1952.3" cy="784" r="5.75" fill="none" stroke="#9b1b0e" stroke-width="4"/>
<circle cx="1956.8" cy="783" r="5.75" fill="none" stroke="#9b1b0e" stroke-width="4"/>
<circle cx="1966.7" cy="784" r="5.75" fill="none" stroke="#9b1b0e" stroke-width="4"/>
<circle cx="1962.2" cy="793" r="5.75" fill="none" stroke="#9b1b0e" stroke-width="4"/>
<circle cx="1973" cy="793.9" r="5.75" fill="none" stroke="#9b1b0e" stroke-width="4"/>
<circle cx="1951.4" cy="798.4" r="5.75" fill="none" stroke="#9b1b0e" stroke-width="4"/>
<circle cx="1956.2" cy="809.7" r="5.75" fill="none" stroke="#9b1b0e" stroke-width="4"/>
<circle cx="1955.9" cy="850.2" r="5.75" fill="none" stroke="#9b1b0e" stroke-width="4"/>
<circle cx="1962.2" cy="850.2" r="5.75" fill="none" stroke="#9b1b0e" stroke-width="4"/>
<path d="M1847 851 L1847 677.9 L1958.6 677.9 L1958.6 712.1" fill="none" stroke="#000" stroke-width="1.6"/>
<text x="1867.4" y="662.1" font-family="'Liberation Sans', Arial, Helvetica, sans-serif" font-size="23.32" fill="#000" textLength="67.29" lengthAdjust="spacingAndGlyphs" stroke="#000" stroke-width="0.5" stroke-linejoin="round">0.0001</text>
<text x="1743.07" y="1062.73" font-family="'Liberation Sans', Arial, Helvetica, sans-serif" font-size="27.98" fill="#000" transform="rotate(-45 1743.07 1062.73)" textLength="157.02" lengthAdjust="spacingAndGlyphs" stroke="#000" stroke-width="0.5" stroke-linejoin="round">Healthy adult</text>
<text x="1763.38" y="1098.42" font-family="'Liberation Sans', Arial, Helvetica, sans-serif" font-size="27.98" fill="#000" transform="rotate(-45 1763.38 1098.42)" textLength="209.34" lengthAdjust="spacingAndGlyphs" stroke="#000" stroke-width="0.5" stroke-linejoin="round">Inflamed non-IBD</text>
<text x="1928.99" y="987.51" font-family="'Liberation Sans', Arial, Helvetica, sans-serif" font-size="27.98" fill="#000" transform="rotate(-45 1928.99 987.51)" textLength="44.84" lengthAdjust="spacingAndGlyphs" stroke="#000" stroke-width="0.5" stroke-linejoin="round">IBD</text>
</g>
<g id="panel-f">
<text x="2.12" y="591.5" font-family="'Liberation Sans', Arial, Helvetica, sans-serif" font-size="34.38" fill="#000" textLength="10.96" lengthAdjust="spacingAndGlyphs" font-weight="bold" stroke="#000" stroke-width="0.4" stroke-linejoin="round">f</text>
<path d="M101 959.46 L102.6 959.78 L104.2 960.87 L105.8 959.5 L107.4 959.62 L109 959.86 L110.6 958.65 L112.2 959.64 L113.8 959.99 L115.4 960.48 L117 958.38 L118.6 959.01 L120.2 958.37 L121.8 960.53 L123.4 960.18 L125 958.23 L126.6 961.05 L128.2 960.99 L129.8 960.06 L131.4 959.95 L133 958.57 L134.6 958.15 L136.2 959.69 L137.8 958.28 L139.4 958.67 L141 958.83 L142.6 958.19 L144.2 959.49 L145.8 959.42 L147.4 960.63 L149 959.66 L150.6 960.02 L152.2 959.6 L153.8 960.09 L155.4 959.47 L157 958.93 L158.6 961.09 L160.2 961.09 L161.8 960.62 L163.4 960.22 L165 959.05 L166.6 958.79 L168.2 958.97 L169.8 958.31 L171.4 960.4 L173 959.3 L174.6 960.64 L176.2 959.26 L177.8 960.97 L179.4 960.64 L181 958.1 L182.6 958.73 L184.2 960.83 L185.8 959.51 L187.4 961.04 L189 959.29 L190.6 958.32 L192.2 959.99 L193.8 960.44 L195.4 958.91 L197 958.36 L198.6 959.1 L200.2 960.99 L201.8 960.37 L203.4 958.45 L205 958.84 L206.6 958.4 L208.2 958.28 L209.8 960.49 L211.4 958.63 L213 959.78 L214.6 959.44 L216.2 958.67 L217.8 960.3 L219.4 958.49 L221 960.03 L222.6 958.45 L224.2 959.36 L225.8 958.74 L227.4 958.91 L229 961.01 L230.6 960.51 L232.2 959.01 L233.8 960.75 L235.4 958.73 L237 959.28 L238.6 960.66 L240.2 960.03 L241.8 958.4 L243.4 961.07 L245 958.74 L246.6 958.87 L248.2 960.42 L249.8 959.09 L251.4 958.99 L253 958.32 L254.6 958.37 L256.2 959.85 L257.8 958.83 L259.4 959.9 L261 959.22 L262.6 959.46 L264.2 960.98 L265.8 959.55 L267.4 959.82 L269 960.7 L270.6 958.65 L272.2 958.56 L273.8 960.83 L275.4 960.55 L277 958.85 L278.6 958.67 L280.2 960.32 L281.8 960.92 L283.4 958.69 L285 960.95 L286.6 960.75 L288.2 959.91 L289.8 959.36 L291.4 958.41 L293 958.22 L294.6 960.99 L296.2 958.82 L297.8 960.21 L299.4 958.87 L301 960.57 L302.6 959.89 L304.2 958.98 L305.8 958.63 L307.4 960.26 L309 958.31 L310.6 958.79 L312.2 959.78 L313.8 960.66 L315.4 959.94 L317 958.94 L318.6 960.85 L320.2 958.71 L321.8 958.15 L323.4 958.91 L325 959.44 L326.6 958.28 L328.2 958.63 L329.8 959.21 L331.4 959.82 L333 958.49 L334.6 959.19 L336.2 960.77 L337.8 961.04 L339.4 960.07 L341 960.17 L342.6 959.85 L344.2 958.52 L345.8 958.21 L347.4 958.15 L349 960.83 L350.6 960.2 L352.2 960.99 L353.8 958.16 L355.4 960.01 L357 959.55 L358.6 960.29 L360.2 959.06 L361.8 961.1 L363.4 958.33 L365 959.74 L366.6 960.31 L368.2 960.8 L369.8 960.31 L371.4 960.21 L373 960.48 L374.6 960.85 L376.2 959.16 L377.8 960.16 L379.4 960.8 L381 960.71 L382.6 959.35 L384.2 960.47 L385.8 960.69 L388 956 L394 953.6 L398.8 946.4 L403.6 936.8 L407.2 930.8 L409.6 926 L413.2 921.2 L414.4 918.8 L419.2 914 L424 912.8 L428.8 915.2 L433.6 912.2 L435.1 912.62 L436.6 914.41 L438.1 915.04 L439.6 916.4 L441.28 917.61 L442.96 918.62 L444.64 918.24 L446.32 919.07 L448 921.2 L449.5 922.91 L451 922.42 L452.5 923.26 L454 924.8 L455.5 926.89 L457 926.53 L458.5 928.31 L460 928.4 L461.8 929.24 L463.6 930.53 L465.4 930.26 L467.2 932 L469 933.22 L470.8 934.68 L472.6 934.76 L474.4 935.6 L475.9 937.68 L477.4 939.01 L478.9 939.05 L480.4 941.6 L481.9 941.92 L483.4 941.22 L484.9 940.22 L486.4 940.4 L488.2 942.27 L490 946.4 L491.5 947.28 L493 946.33 L494.5 946.93 L496 946.4 L497.8 948.81 L499.6 949.4 L501.2 949.91 L502.8 950.41 L504.4 949.4 L506.2 951.25 L508 953.6 L509.75 954.67 L511.5 954.17 L513.25 955.7 L515 955 L516.67 956.33 L518.33 954.87 L520 955.38 L521.67 955.99 L523.33 958.2 L525 957.5 L527 958.89 L528.6 959.69 L530.2 959.73 L531.8 957.43 L533.4 956.85 L535 958.45 L536.6 958.01 L538.2 960.37 L539.8 959.84 L541.4 959.45 L543 959.26 L544.6 959.71 L546.2 957.44 L547.8 958.74 L549.4 957.51 L551 960.79 L552.6 957.06 L554.2 960.4 L555.8 957.13 L557.4 959.82 L559 958.28 L560.6 958.58 L562.2 960.51 L563.8 956.88 L565.4 957.07 L567 960.83 L568.6 959.04 L570.2 957.2 L571.8 961.14 L573.4 960.97 L575 957.3 L576.6 958.66" fill="none" stroke="#ababab" stroke-width="4.2" stroke-linejoin="round" stroke-linecap="round"/>
<line x1="424" y1="827.3" x2="424" y2="914" stroke="#ababab" stroke-width="4.6" stroke-linecap="round"/>
<path d="M101 959.92 L102.6 960.23 L104.2 960.37 L105.8 960.75 L107.4 960.22 L109 960.7 L110.6 958.38 L112.2 959.51 L113.8 960.75 L115.4 959.99 L117 960.64 L118.6 958.59 L120.2 959.52 L121.8 958.94 L123.4 959.71 L125 959.79 L126.6 958.33 L128.2 958.86 L129.8 959.03 L131.4 960.68 L133 960.29 L134.6 958.71 L136.2 960.37 L137.8 958.66 L139.4 959.91 L141 958.63 L142.6 958.3 L144.2 960.57 L145.8 958.84 L147.4 958.86 L149 960.85 L150.6 960.57 L152.2 959.05 L153.8 960.8 L155.4 959.7 L157 960.06 L158.6 958.83 L160.2 960.75 L161.8 960.1 L163.4 960.81 L165 960.62 L166.6 959.08 L168.2 959.24 L169.8 958.73 L171.4 958.68 L173 958.47 L174.6 959.08 L176.2 959.87 L177.8 958.31 L179.4 960.06 L181 959.18 L182.6 959.11 L184.2 960.43 L185.8 959.55 L187.4 959.12 L190 956 L197.2 953.6 L202 950 L206.8 942.8 L209.8 932 L212.2 917.6 L214 902 L215.8 884 L217 872 L217.8 860 L218.6 846 L220.2 822 L222 798 L224.4 772 L226.2 754 L228 736 L229.8 714.4 L231.6 696.4 L233.4 689.2 L235.2 684.4 L237 681.4 L238.8 680.2 L240.6 681.4 L242.4 683.8 L244.2 686.8 L245.8 690.4 L246.7 694 L247.2 702.4 L247.6 712 L248 724 L248.5 736 L249 751 L250.8 751 L251 737.2 L254.4 736.6 L255.4 742 L256.8 751.6 L257.4 757 L258.4 768 L260.2 783.6 L262 795.6 L265 804 L266.2 817.2 L268 834 L270.4 846 L272.8 854.4 L276.4 860.4 L279.4 868.8 L280.4 873 L282.4 888.8 L287.2 888.8 L289.6 898.4 L292 906.8 L293.8 905.96 L295.6 906.8 L296.8 912.13 L298 920 L299.2 920.27 L300.4 921.2 L302 920.9 L303.6 921.41 L305.2 923.6 L306.7 927.49 L308.2 932 L309.7 933.94 L311.2 933.2 L313 937.16 L314.8 939.2 L316.4 940.85 L318 939.91 L319.6 941.6 L320.8 942.32 L322 942.8 L323.8 934.4 L325.6 935.6 L326.8 940.29 L328 946.4 L329.5 945.05 L331 944.54 L332.5 944.59 L334 945.2 L335.5 948.07 L337 949.25 L338.5 950.68 L340 951.2 L341.6 949.76 L343.2 945.42 L344.8 944 L346 944.59 L347.2 946.4 L349 950.41 L350.8 953.6 L352.6 953.14 L354.4 951.2 L355.93 952.93 L357.47 953.62 L359 953 L360.67 952.28 L362.33 954.54 L364 954.8 L365.5 954.2 L367 952.5 L368.5 954.87 L370 957.2 L371.75 955.07 L373.5 955 L375.35 954.22 L377.2 953.6 L378.8 953.42 L380.4 957.26 L382 957 L383.6 959.04 L385.2 958.89 L386.8 959.6 L388.65 956.66 L390.5 955 L392.25 955.01 L394 952.4 L395.2 950.83 L396.4 948.8 L397.3 952.52 L398.2 956.62 L399.1 958.65 L400 962 L401.2 965.51 L402.4 966.8 L403.3 961.03 L404.2 959.03 L405.1 957.02 L406 951.2 L406.9 949.7 L407.8 953.32 L408.7 954.68 L409.6 956 L410.5 951.47 L411.4 942.8 L412.45 946.48 L413.5 954.52 L414.55 960.34 L415.6 965.6 L416.4 965.3 L417.2 963.78 L418 960.16 L418.8 961.32 L419.6 960.43 L420.4 960.8 L421.2 960.15 L422 957.38 L422.8 956.54 L423.6 956.2 L424.4 955.47 L425.2 952.4 L425.95 951.24 L426.7 953.64 L427.45 953.63 L428.2 956.35 L428.95 956.6 L429.7 960.9 L430.45 962.08 L431.2 963.2 L432 963.85 L432.8 960.1 L433.6 959.77 L434.4 958.51 L435.2 958.68 L436 956 L436.75 955.2 L437.5 955.61 L438.25 956.53 L439 954.9 L439.75 953.72 L440.5 956.69 L441.25 954.66 L442 954.8 L442.75 955.82 L443.5 955.03 L444.25 957.15 L445 956.92 L445.75 956.78 L446.5 957.45 L447.25 956.38 L448 959.6 L448.75 958 L449.5 958.82 L450.25 956.15 L451 956.48 L451.75 954.87 L452.5 955.54 L453.25 956.78 L454 954.8 L454.75 954.98 L455.5 958.29 L456.25 960.97 L457 959.63 L457.75 963.33 L458.5 963.09 L459.25 962.03 L460 965.6 L460.8 965.02 L461.6 965.69 L462.4 963.77 L463.2 961.92 L464 959.48 L464.8 962 L466 957 L467.2 954.8 L468 954.57 L468.8 955.13 L469.6 958.7 L470.4 958.05 L471.2 956.21 L472 958.4 L472.75 959.69 L473.5 959.97 L474.25 957.99 L475 959.96 L475.75 961.12 L476.5 961.46 L477.25 964.39 L478 963.2 L478.75 959.94 L479.5 959.77 L480.25 956.46 L481 958.27 L481.75 954.24 L482.5 954.54 L483.25 954.28 L484 953.6 L484.9 951.71 L485.8 954.83 L486.7 953.29 L487.6 956.07 L488.5 956.44 L489.4 956.86 L490.3 958.62 L491.2 956 L492 955.16 L492.8 955.15 L493.6 954.18 L494.4 954.27 L495.2 953.46 L496 951.2 L496.8 950.71 L497.6 954.46 L498.4 957.71 L499.2 960.12 L500 961.16 L500.8 965.6 L501.7 965.56 L502.6 964.39 L503.5 965.12 L504.4 961.08 L505.3 956.83 L506.2 957.21 L507.1 956.29 L508 954.8 L508.75 955.61 L509.5 955.32 L510.25 952.53 L511 953.39 L511.75 952.05 L512.5 953.12 L513.25 954.73 L514 951.2 L514.75 953.91 L515.5 951.44 L516.25 949.76 L517 952.01 L517.75 953.94 L518.5 953.72 L519.25 956.61 L520 954.8 L520.9 955.25 L521.8 958.44 L522.7 962 L523.6 964.4 L524.5 959.43 L525.4 959.22 L526.3 956.31 L527.2 954.8 L528.1 957.49 L529 958.38 L529.9 958.89 L530.8 958.46 L531.7 960.42 L532.6 959.53 L533.5 959.22 L534.4 963.2 L535.3 958.98 L536.2 956.34 L537.1 956.26 L538 952.4 L538.8 951.71 L539.6 950.14 L540.4 950.27 L541.2 950.91 L542 949.35 L542.8 948.8 L543.7 953.81 L544.6 953.76 L545.5 957.07 L546.4 959.6 L547.6 962.53 L548.2 962.16 L548.8 966.8 L549.6 965.91 L550.4 961.91 L551.2 960.64 L552 961.14 L552.8 958.23 L553.6 956 L554.4 954.19 L555.2 955.36 L556 954.52 L556.8 954.27 L557.6 953.62 L558.4 954.8 L559.3 953.16 L560.2 955.79 L561.1 958.37 L562 959.6 L562.8 955.42 L563.6 955.38 L564.4 955.64 L565.2 952.94 L566 949.6 L566.8 951.2 L567.7 953.84 L568.6 953.57 L569.5 955.78 L570.4 954.8 L571.3 956.63 L572.2 958.48 L573.1 962.53 L574 964.4 L574.9 961.16 L575.8 960.53 L576.7 961.3 L577.6 959.6" fill="none" stroke="#9b1b0e" stroke-width="4.6" stroke-linejoin="round" stroke-linecap="round"/>
<line x1="226.2" y1="652.4" x2="226.2" y2="742" stroke="#9b1b0e" stroke-width="5.2" stroke-linecap="round"/>
<path d="M101 960.53 L102.6 960.59 L104.2 960.46 L105.8 958.68 L107.4 959.8 L109 959.43 L110.6 959.67 L112.2 958.79 L113.8 958.92 L115.4 959.48 L117 958.99 L118.6 959.5 L120.2 958.55 L121.8 958.69 L123.4 960.06 L125 959.43 L126.6 959.63 L128.2 960.12 L129.8 959.29 L131.4 958.63 L133 960.22 L134.6 959.8 L136.2 959.95 L137.8 959.87 L139.4 960.64 L141 959.3 L142.6 960.17 L144.2 959.31 L145.8 959.76 L147.4 959.95 L149 959.19 L150.6 958.69 L152.2 959.54 L153.8 960.08 L155.4 959.8 L157 959.48 L158.6 959.91 L160.2 958.9 L161.8 958.89 L163.4 959.21 L165 960.29 L166.6 958.93 L168.2 958.75 L169.8 958.72 L171.4 958.59 L173 959.11 L174.6 959.76 L176.2 960.31 L177.8 959.23 L179.4 959.31 L181 959.13 L182.6 959.17 L184.2 960.21 L185.8 959.71 L187.4 959.07 L189 958.74 L190.6 960.22 L192.2 960.06 L193.8 960.32 L195.4 959.02 L197 959.7 L198.6 960.52 L200.2 959.8 L201.8 960.58 L203.4 958.87 L205 960.65 L206.6 958.62 L208.2 959.42 L209.8 958.55 L211.4 960.28 L213 960.01 L214.6 960.64 L216.2 960.27 L217.8 960.59 L219.4 959.68 L221 960.67 L222.6 960.15 L224.2 959.26 L225.8 960.64 L227.4 959.33 L229 958.93 L230.6 958.67 L232.2 959.53 L233.8 958.93 L235.4 960.55 L237 960.59 L238.6 958.98 L242.8 957.2 L246.4 955.4 L251.2 954.8 L255.4 951.2 L258.4 946.4 L260.8 939.2 L263.2 929.6 L266.8 912.8 L270.4 893.6 L274 874.4 L277.2 860 L281.2 843.6 L284.8 831.6 L289.6 820.8 L294.4 812.4 L298 808.8 L301 807.8 L304.6 810.6 L308.8 808.8 L311.2 812.4 L315.4 813.6 L317.2 820.8 L319.6 825.6 L325.6 830.4 L328 836.4 L329.2 841.2 L332.8 847.2 L334.6 854.4 L337.6 855.6 L338.8 864 L339.4 878 L340.6 892.4 L342.4 897.2 L344 897.2 L344.8 878 L346 870.2 L347.8 870.2 L349.6 875.6 L352 881.6 L353.5 883.02 L355 883.7 L356.5 883.36 L358 884 L359.2 886.93 L360.4 891.2 L362.2 892.8 L364 897.2 L365.5 899.46 L367 900.72 L368.5 903.33 L370 904.4 L371.8 905.84 L373.6 908 L375.2 909.56 L376.8 908.96 L378.4 910.4 L380.2 914.85 L382 917.6 L383.8 918.24 L385.6 917.6 L387.4 920.36 L389.2 923.6 L390.7 924.31 L392.2 925.31 L393.7 924.54 L395.2 926 L396.8 927.55 L398.4 929.65 L400 930.2 L401.6 930.54 L403.2 933.05 L404.8 933.2 L406.6 933.72 L408.4 933.2 L410.2 937.36 L412 939.6 L413.5 939.34 L415 938.86 L416.5 941.04 L418 940.4 L419.5 941.9 L421 941.55 L422.5 941.21 L424 943 L425.8 943.25 L427.6 945.2 L429.2 945.18 L430.8 943.82 L432.4 944 L434 946.86 L435.6 947.45 L437.2 948.8 L438.8 948.2 L440.4 949.7 L442 949.5 L443.5 949.53 L445 951.56 L446.5 951.92 L448 951.2 L449.6 950.44 L451.2 950 L452.8 948.8 L454.4 950.15 L456 951.26 L457.6 951.2 L458.8 956.13 L460 958.4 L461.8 952.28 L463.6 948.8 L465.4 951.41 L467.2 954.8 L468.8 954.82 L470.4 953.72 L472 954 L473.5 954.75 L475 953.85 L476.5 956.56 L478 956 L479.5 956.37 L481 955.53 L482.5 957.36 L484 957.2 L485.6 955.07 L487.2 953.15 L488.8 952.4 L490.4 954.35 L492 955.39 L493.6 958.4 L495.2 957.99 L496.8 960.22 L498.4 959.6 L500.2 956.56 L502 952.4 L503.8 955.84 L505.6 962 L507.1 960.08 L508.6 955.25 L510.1 953.43 L511.6 951.2 L513.4 955.93 L515.2 958.4 L516.8 957.94 L518.4 956.26 L520 956 L521.67 956.99 L523.33 958.36 L525 960 L526.53 959.62 L528.07 962.73 L529.6 962 L531.1 959.85 L532.6 959.98 L534.1 959.99 L535.6 958.4 L537.4 959.31 L539.2 960.8 L540.8 960.15 L542.4 956.09 L544 954.8 L545.5 956.74 L547 957.1 L548.5 957.08 L550 957.2 L551.6 959.89 L553.2 960.25 L554.8 962 L556.6 961.13 L558.4 958.4 L559.9 962.83 L561.4 965.6 L563.5 962.65 L565.6 959.6 L567.4 959.52 L569.2 959.6 L571 957.78 L572.8 954.8 L574.6 959.35 L576.4 964.4 L578.3 967.5" fill="none" stroke="#242424" stroke-width="4.6" stroke-linejoin="round" stroke-linecap="round"/>
<line x1="335.6" y1="767.2" x2="335.6" y2="856" stroke="#242424" stroke-width="5" stroke-linecap="round"/>
<line x1="100.3" y1="650.05" x2="100.3" y2="971.05" stroke="#000" stroke-width="2.7"/>
<line x1="98.95" y1="969.7" x2="578.35" y2="969.7" stroke="#000" stroke-width="2.7"/>
<line x1="86.9" y1="651.4" x2="100.3" y2="651.4" stroke="#000" stroke-width="2.7"/>
<text x="41.53" y="660" font-family="'Liberation Sans', Arial, Helvetica, sans-serif" font-size="23.7" fill="#000" font-weight="bold" stroke="#000" stroke-width="0.35" stroke-linejoin="round">300</text>
<line x1="86.9" y1="753.9" x2="100.3" y2="753.9" stroke="#000" stroke-width="2.7"/>
<text x="41.53" y="762.5" font-family="'Liberation Sans', Arial, Helvetica, sans-serif" font-size="23.7" fill="#000" font-weight="bold" stroke="#000" stroke-width="0.35" stroke-linejoin="round">200</text>
<line x1="86.9" y1="857" x2="100.3" y2="857" stroke="#000" stroke-width="2.7"/>
<text x="41.53" y="865.6" font-family="'Liberation Sans', Arial, Helvetica, sans-serif" font-size="23.7" fill="#000" font-weight="bold" stroke="#000" stroke-width="0.35" stroke-linejoin="round">100</text>
<line x1="86.9" y1="959.6" x2="100.3" y2="959.6" stroke="#000" stroke-width="2.7"/>
<text x="67.89" y="968.2" font-family="'Liberation Sans', Arial, Helvetica, sans-serif" font-size="23.7" fill="#000" font-weight="bold" stroke="#000" stroke-width="0.35" stroke-linejoin="round">0</text>
<line x1="100.3" y1="969.7" x2="100.3" y2="983.2" stroke="#000" stroke-width="2.7"/>
<text x="93.72" y="1011.4" font-family="'Liberation Sans', Arial, Helvetica, sans-serif" font-size="23.7" fill="#000" font-weight="bold" stroke="#000" stroke-width="0.35" stroke-linejoin="round">0</text>
<line x1="219.1" y1="969.7" x2="219.1" y2="983.2" stroke="#000" stroke-width="2.7"/>
<text x="206.01" y="1011.4" font-family="'Liberation Sans', Arial, Helvetica, sans-serif" font-size="23.7" fill="#000" font-weight="bold" stroke="#000" stroke-width="0.35" stroke-linejoin="round">20</text>
<line x1="338.6" y1="969.7" x2="338.6" y2="983.2" stroke="#000" stroke-width="2.7"/>
<text x="325.74" y="1011.4" font-family="'Liberation Sans', Arial, Helvetica, sans-serif" font-size="23.7" fill="#000" font-weight="bold" stroke="#000" stroke-width="0.35" stroke-linejoin="round">40</text>
<line x1="457.8" y1="969.7" x2="457.8" y2="983.2" stroke="#000" stroke-width="2.7"/>
<text x="444.68" y="1011.4" font-family="'Liberation Sans', Arial, Helvetica, sans-serif" font-size="23.7" fill="#000" font-weight="bold" stroke="#000" stroke-width="0.35" stroke-linejoin="round">60</text>
<line x1="577" y1="969.7" x2="577" y2="983.2" stroke="#000" stroke-width="2.7"/>
<text x="563.94" y="1011.4" font-family="'Liberation Sans', Arial, Helvetica, sans-serif" font-size="23.7" fill="#000" font-weight="bold" stroke="#000" stroke-width="0.35" stroke-linejoin="round">80</text>
<text x="260.82" y="1057.5" font-family="'Liberation Sans', Arial, Helvetica, sans-serif" font-size="30.69" fill="#000" textLength="156.16" lengthAdjust="spacingAndGlyphs" stroke="#000" stroke-width="0.5" stroke-linejoin="round">Time (mins)</text>
<text x="27.3" y="908.46" font-family="'Liberation Sans', Arial, Helvetica, sans-serif" font-size="30.78" fill="#000" transform="rotate(-90 27.3 908.46)" textLength="194.08" lengthAdjust="spacingAndGlyphs" stroke="#000" stroke-width="0.5" stroke-linejoin="round">Thrombin (nM)</text>
<text x="185.83" y="635.6" font-family="'Liberation Sans', Arial, Helvetica, sans-serif" font-size="36.3" fill="#000" textLength="77.59" lengthAdjust="spacingAndGlyphs" stroke="#000" stroke-width="0.5" stroke-linejoin="round">pIBD</text>
<text x="304.5" y="744.5" font-family="'Liberation Sans', Arial, Helvetica, sans-serif" font-size="35.98" fill="#000" textLength="269.26" lengthAdjust="spacingAndGlyphs" stroke="#000" stroke-width="0.5" stroke-linejoin="round">Inflamed non-IBD</text>
<text x="394.87" y="809.5" font-family="'Liberation Sans', Arial, Helvetica, sans-serif" font-size="35.67" fill="#000" textLength="200.21" lengthAdjust="spacingAndGlyphs" stroke="#000" stroke-width="0.5" stroke-linejoin="round">Healthy adult</text>
</g>
</svg>
</body>
</html>
